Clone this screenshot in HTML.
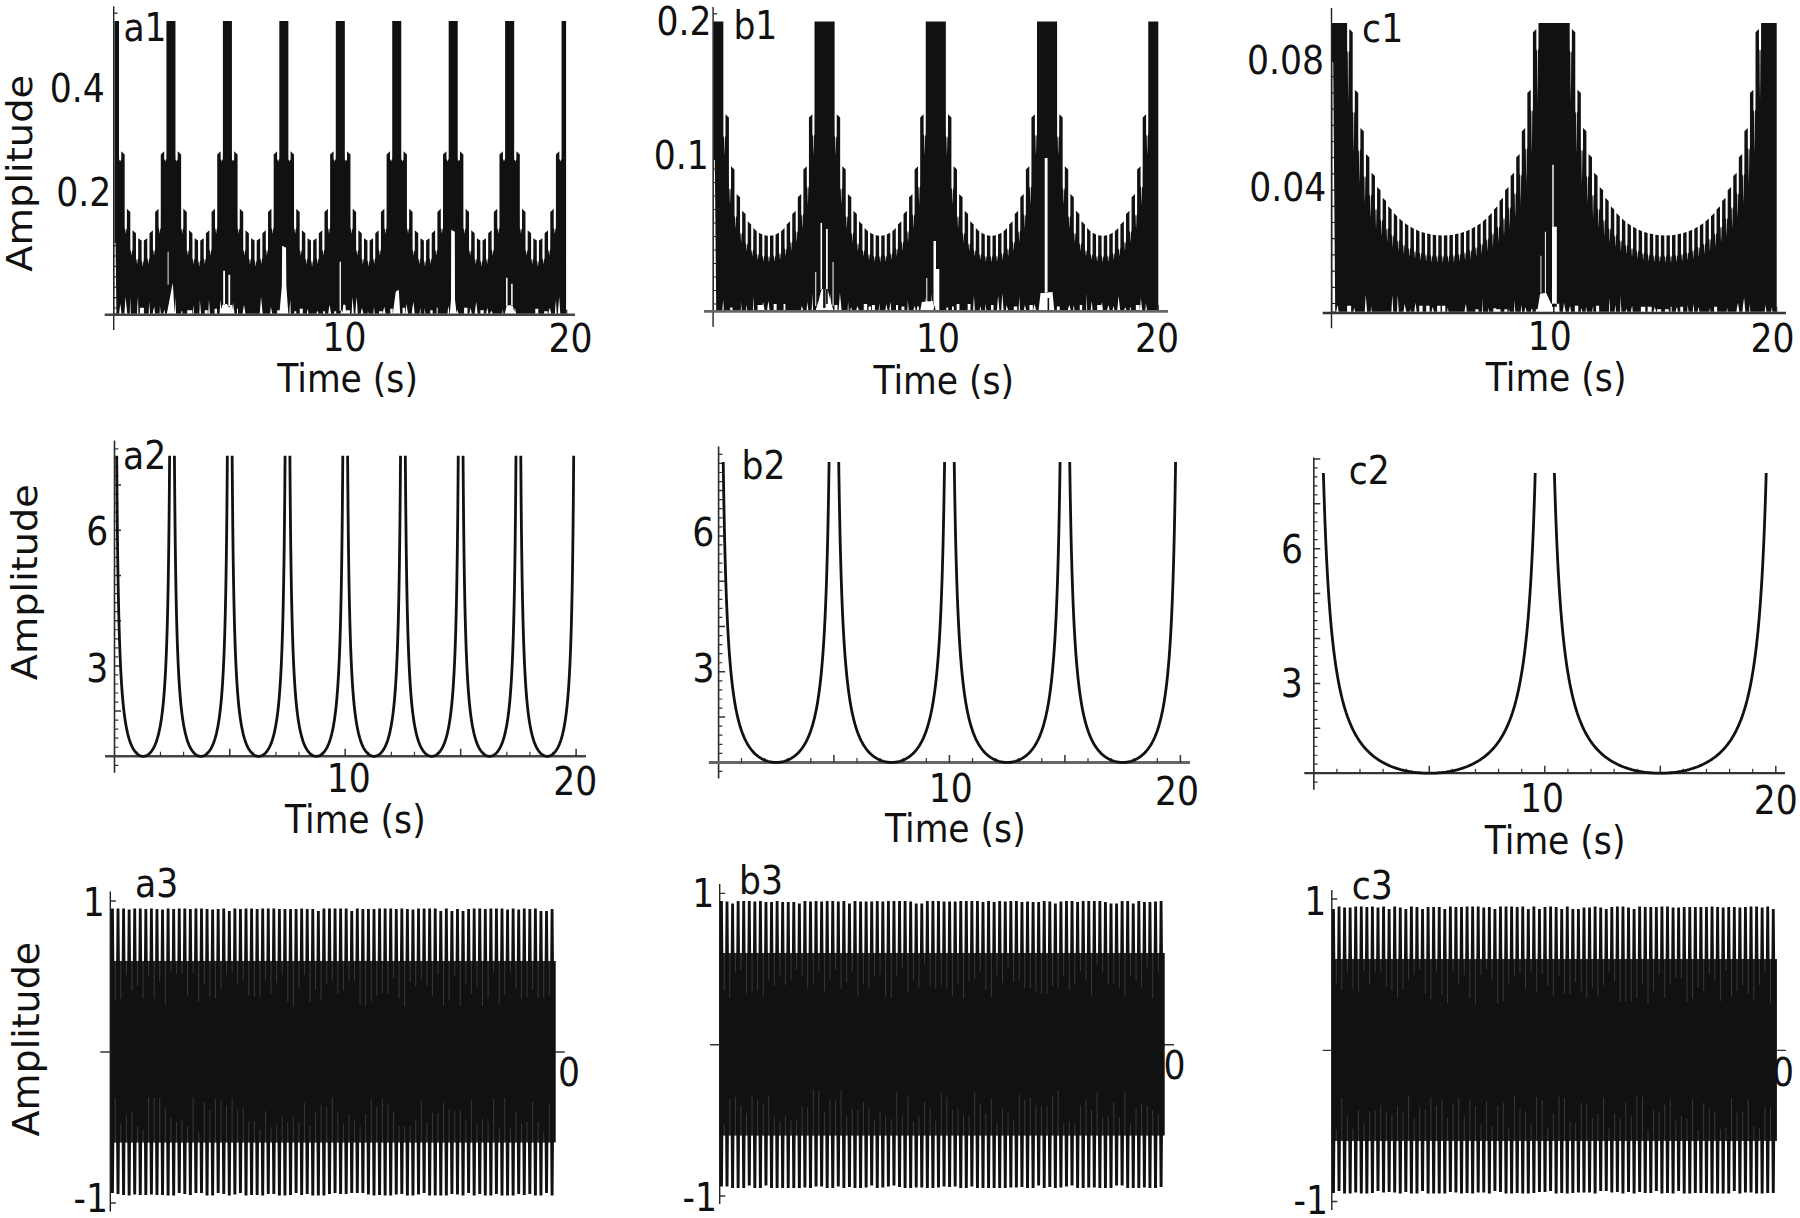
<!DOCTYPE html>
<html><head><meta charset="utf-8"><title>Amplitude vs Time</title>
<style>
html,body{margin:0;padding:0;background:#fff;overflow:hidden;}
svg{display:block;}
text{font-family:"DejaVu Sans","Liberation Sans",sans-serif;font-size:200px;fill:#111;}
</style></head><body>
<svg width="1800" height="1218" viewBox="0 0 1800 1218">
<rect width="1800" height="1218" fill="#fff"/>
<text transform="translate(548.51 352) scale(0.1730 0.1980)">20</text>
<path d="M114.5 313.7L114.5 21L115.62 21L119.02 21L119.02 152.9L119.08 159.48L119.72 160.21L119.92 161.05L120.14 161.6L120.37 161.05L120.57 160.21L121.21 159.48L121.27 152.9L121.27 151.3L124.67 154.5L124.67 210.46L124.72 228.06L125.36 230.01L125.57 232.25L125.79 233.74L126.01 232.25L126.22 230.01L126.86 228.06L126.91 210.46L126.91 208.86L130.31 212.06L130.31 231.77L130.37 249.79L131.01 251.79L131.21 254.08L131.44 255.6L131.66 254.08L131.86 251.79L132.5 249.79L132.56 231.77L132.56 230.17L135.96 233.37L135.96 239.79L136.01 258.31L136.65 260.36L136.86 262.71L137.08 264.28L137.3 262.71L137.51 260.36L138.15 258.31L138.2 239.79L138.2 238.33L141.6 240.56L141.6 240.56L141.66 260.32L142.3 262.52L142.5 265.03L142.72 266.7L142.95 265.03L143.15 262.52L143.79 260.32L143.85 240.56L143.85 240.56L147.25 238.33L147.25 238.33L147.3 257.95L147.94 260.13L148.15 262.62L148.37 264.28L148.59 262.62L148.8 260.13L149.44 257.95L149.49 238.33L149.49 233.37L152.89 230.17L152.89 230.17L152.95 249.4L153.59 251.54L153.79 253.98L154.01 255.6L154.24 253.98L154.44 251.54L155.08 249.4L155.14 230.17L155.14 212.06L158.54 208.86L158.54 208.86L158.59 227.67L159.23 229.76L159.44 232.15L159.66 233.74L159.88 232.15L160.09 229.76L160.73 227.67L160.78 208.86L160.78 154.5L164.18 151.3L164.18 151.3L164.24 159.09L164.88 159.96L165.08 160.95L165.31 161.6L165.53 160.95L165.73 159.96L166.37 159.09L166.43 151.3L166.43 21L169.83 21L170.95 21L172.07 21L175.47 21L175.47 152.9L175.53 159.48L176.17 160.21L176.37 161.05L176.59 161.6L176.82 161.05L177.02 160.21L177.66 159.48L177.72 152.9L177.72 151.3L181.12 154.5L181.12 210.46L181.17 228.06L181.81 230.01L182.02 232.25L182.24 233.74L182.46 232.25L182.67 230.01L183.31 228.06L183.36 210.46L183.36 208.86L186.76 212.06L186.76 231.77L186.82 249.79L187.46 251.79L187.66 254.08L187.88 255.6L188.11 254.08L188.31 251.79L188.95 249.79L189.01 231.77L189.01 230.17L192.41 233.37L192.41 239.79L192.46 258.31L193.1 260.36L193.31 262.71L193.53 264.28L193.75 262.71L193.96 260.36L194.6 258.31L194.65 239.79L194.65 238.33L198.05 240.56L198.05 240.56L198.11 260.32L198.75 262.52L198.95 265.03L199.18 266.7L199.4 265.03L199.6 262.52L200.24 260.32L200.3 240.56L200.3 240.56L203.7 238.33L203.7 238.33L203.75 257.95L204.39 260.13L204.6 262.62L204.82 264.28L205.04 262.62L205.25 260.13L205.89 257.95L205.94 238.33L205.94 233.37L209.34 230.17L209.34 230.17L209.4 249.4L210.04 251.54L210.24 253.98L210.46 255.6L210.69 253.98L210.89 251.54L211.53 249.4L211.59 230.17L211.59 212.06L214.99 208.86L214.99 208.86L215.04 227.67L215.68 229.76L215.89 232.15L216.11 233.74L216.33 232.15L216.54 229.76L217.18 227.67L217.23 208.86L217.23 154.5L220.63 151.3L220.63 151.3L220.69 159.09L221.33 159.96L221.53 160.95L221.75 161.6L221.98 160.95L222.18 159.96L222.82 159.09L222.88 151.3L222.88 21L226.28 21L227.4 21L228.52 21L231.92 21L231.92 152.9L231.98 159.48L232.62 160.21L232.82 161.05L233.04 161.6L233.27 161.05L233.47 160.21L234.11 159.48L234.17 152.9L234.17 151.3L237.57 154.5L237.57 210.46L237.62 228.06L238.26 230.01L238.47 232.25L238.69 233.74L238.91 232.25L239.12 230.01L239.76 228.06L239.81 210.46L239.81 208.86L243.21 212.06L243.21 231.77L243.27 249.79L243.91 251.79L244.11 254.08L244.33 255.6L244.56 254.08L244.76 251.79L245.4 249.79L245.46 231.77L245.46 230.17L248.86 233.37L248.86 239.79L248.91 258.31L249.55 260.36L249.76 262.71L249.98 264.28L250.2 262.71L250.41 260.36L251.05 258.31L251.1 239.79L251.1 238.33L254.5 240.56L254.5 240.56L254.56 260.32L255.2 262.52L255.4 265.03L255.62 266.7L255.85 265.03L256.05 262.52L256.69 260.32L256.75 240.56L256.75 240.56L260.15 238.33L260.15 238.33L260.2 257.95L260.84 260.13L261.05 262.62L261.27 264.28L261.49 262.62L261.7 260.13L262.34 257.95L262.39 238.33L262.39 233.37L265.79 230.17L265.79 230.17L265.85 249.4L266.49 251.54L266.69 253.98L266.91 255.6L267.14 253.98L267.34 251.54L267.98 249.4L268.04 230.17L268.04 212.06L271.44 208.86L271.44 208.86L271.49 227.67L272.13 229.76L272.34 232.15L272.56 233.74L272.78 232.15L272.99 229.76L273.63 227.67L273.68 208.86L273.68 154.5L277.08 151.3L277.08 151.3L277.14 159.09L277.78 159.96L277.98 160.95L278.2 161.6L278.43 160.95L278.63 159.96L279.27 159.09L279.33 151.3L279.33 21L282.73 21L283.85 21L284.97 21L288.37 21L288.37 152.9L288.43 159.48L289.07 160.21L289.27 161.05L289.5 161.6L289.72 161.05L289.92 160.21L290.56 159.48L290.62 152.9L290.62 151.3L294.02 154.5L294.02 210.46L294.07 228.06L294.71 230.01L294.92 232.25L295.14 233.74L295.36 232.25L295.57 230.01L296.21 228.06L296.26 210.46L296.26 208.86L299.66 212.06L299.66 231.77L299.72 249.79L300.36 251.79L300.56 254.08L300.78 255.6L301.01 254.08L301.21 251.79L301.85 249.79L301.91 231.77L301.91 230.17L305.31 233.37L305.31 239.79L305.36 258.31L306 260.36L306.21 262.71L306.43 264.28L306.65 262.71L306.86 260.36L307.5 258.31L307.55 239.79L307.55 238.33L310.95 240.56L310.95 240.56L311.01 260.32L311.65 262.52L311.85 265.03L312.07 266.7L312.3 265.03L312.5 262.52L313.14 260.32L313.2 240.56L313.2 240.56L316.6 238.33L316.6 238.33L316.65 257.95L317.29 260.13L317.5 262.62L317.72 264.28L317.94 262.62L318.15 260.13L318.79 257.95L318.84 238.33L318.84 233.37L322.24 230.17L322.24 230.17L322.3 249.4L322.94 251.54L323.14 253.98L323.37 255.6L323.59 253.98L323.79 251.54L324.43 249.4L324.49 230.17L324.49 212.06L327.89 208.86L327.89 208.86L327.94 227.67L328.58 229.76L328.79 232.15L329.01 233.74L329.23 232.15L329.44 229.76L330.08 227.67L330.13 208.86L330.13 154.5L333.53 151.3L333.53 151.3L333.59 159.09L334.23 159.96L334.43 160.95L334.65 161.6L334.88 160.95L335.08 159.96L335.72 159.09L335.78 151.3L335.78 21L339.18 21L340.3 21L341.42 21L344.82 21L344.82 152.9L344.88 159.48L345.52 160.21L345.72 161.05L345.94 161.6L346.17 161.05L346.37 160.21L347.01 159.48L347.07 152.9L347.07 151.3L350.47 154.5L350.47 210.46L350.52 228.06L351.16 230.01L351.37 232.25L351.59 233.74L351.81 232.25L352.02 230.01L352.66 228.06L352.71 210.46L352.71 208.86L356.11 212.06L356.11 231.77L356.17 249.79L356.81 251.79L357.01 254.08L357.24 255.6L357.46 254.08L357.66 251.79L358.3 249.79L358.36 231.77L358.36 230.17L361.76 233.37L361.76 239.79L361.81 258.31L362.45 260.36L362.66 262.71L362.88 264.28L363.1 262.71L363.31 260.36L363.95 258.31L364 239.79L364 238.33L367.4 240.56L367.4 240.56L367.46 260.32L368.1 262.52L368.3 265.03L368.52 266.7L368.75 265.03L368.95 262.52L369.59 260.32L369.65 240.56L369.65 240.56L373.05 238.33L373.05 238.33L373.1 257.95L373.74 260.13L373.95 262.62L374.17 264.28L374.39 262.62L374.6 260.13L375.24 257.95L375.29 238.33L375.29 233.37L378.69 230.17L378.69 230.17L378.75 249.4L379.39 251.54L379.59 253.98L379.81 255.6L380.04 253.98L380.24 251.54L380.88 249.4L380.94 230.17L380.94 212.06L384.34 208.86L384.34 208.86L384.39 227.67L385.03 229.76L385.24 232.15L385.46 233.74L385.68 232.15L385.89 229.76L386.53 227.67L386.58 208.86L386.58 154.5L389.98 151.3L389.98 151.3L390.04 159.09L390.68 159.96L390.88 160.95L391.1 161.6L391.33 160.95L391.53 159.96L392.17 159.09L392.23 151.3L392.23 21L395.63 21L396.75 21L397.87 21L401.27 21L401.27 152.9L401.33 159.48L401.97 160.21L402.17 161.05L402.39 161.6L402.62 161.05L402.82 160.21L403.46 159.48L403.52 152.9L403.52 151.3L406.92 154.5L406.92 210.46L406.97 228.06L407.61 230.01L407.82 232.25L408.04 233.74L408.26 232.25L408.47 230.01L409.11 228.06L409.16 210.46L409.16 208.86L412.56 212.06L412.56 231.77L412.62 249.79L413.26 251.79L413.46 254.08L413.69 255.6L413.91 254.08L414.11 251.79L414.75 249.79L414.81 231.77L414.81 230.17L418.21 233.37L418.21 239.79L418.26 258.31L418.9 260.36L419.11 262.71L419.33 264.28L419.55 262.71L419.76 260.36L420.4 258.31L420.45 239.79L420.45 238.33L423.85 240.56L423.85 240.56L423.91 260.32L424.55 262.52L424.75 265.03L424.97 266.7L425.2 265.03L425.4 262.52L426.04 260.32L426.1 240.56L426.1 240.56L429.5 238.33L429.5 238.33L429.55 257.95L430.19 260.13L430.4 262.62L430.62 264.28L430.84 262.62L431.05 260.13L431.69 257.95L431.74 238.33L431.74 233.37L435.14 230.17L435.14 230.17L435.2 249.4L435.84 251.54L436.04 253.98L436.26 255.6L436.49 253.98L436.69 251.54L437.33 249.4L437.39 230.17L437.39 212.06L440.79 208.86L440.79 208.86L440.84 227.67L441.48 229.76L441.69 232.15L441.91 233.74L442.13 232.15L442.34 229.76L442.98 227.67L443.03 208.86L443.03 154.5L446.43 151.3L446.43 151.3L446.49 159.09L447.13 159.96L447.33 160.95L447.55 161.6L447.78 160.95L447.98 159.96L448.62 159.09L448.68 151.3L448.68 21L452.08 21L453.2 21L454.32 21L457.72 21L457.72 152.9L457.78 159.48L458.42 160.21L458.62 161.05L458.84 161.6L459.07 161.05L459.27 160.21L459.91 159.48L459.97 152.9L459.97 151.3L463.37 154.5L463.37 210.46L463.42 228.06L464.06 230.01L464.27 232.25L464.49 233.74L464.71 232.25L464.92 230.01L465.56 228.06L465.61 210.46L465.61 208.86L469.01 212.06L469.01 231.77L469.07 249.79L469.71 251.79L469.91 254.08L470.13 255.6L470.36 254.08L470.56 251.79L471.2 249.79L471.26 231.77L471.26 230.17L474.66 233.37L474.66 239.79L474.71 258.31L475.35 260.36L475.56 262.71L475.78 264.28L476 262.71L476.21 260.36L476.85 258.31L476.9 239.79L476.9 238.33L480.3 240.56L480.3 240.56L480.36 260.32L481 262.52L481.2 265.03L481.42 266.7L481.65 265.03L481.85 262.52L482.49 260.32L482.55 240.56L482.55 240.56L485.95 238.33L485.95 238.33L486 257.95L486.64 260.13L486.85 262.62L487.07 264.28L487.29 262.62L487.5 260.13L488.14 257.95L488.19 238.33L488.19 233.37L491.59 230.17L491.59 230.17L491.65 249.4L492.29 251.54L492.49 253.98L492.71 255.6L492.94 253.98L493.14 251.54L493.78 249.4L493.84 230.17L493.84 212.06L497.24 208.86L497.24 208.86L497.29 227.67L497.93 229.76L498.14 232.15L498.36 233.74L498.58 232.15L498.79 229.76L499.43 227.67L499.48 208.86L499.48 154.5L502.88 151.3L502.88 151.3L502.94 159.09L503.58 159.96L503.78 160.95L504 161.6L504.23 160.95L504.43 159.96L505.07 159.09L505.13 151.3L505.13 21L508.53 21L509.65 21L510.77 21L514.17 21L514.17 152.9L514.23 159.48L514.87 160.21L515.07 161.05L515.29 161.6L515.52 161.05L515.72 160.21L516.36 159.48L516.42 152.9L516.42 151.3L519.82 154.5L519.82 210.46L519.87 228.06L520.51 230.01L520.72 232.25L520.94 233.74L521.16 232.25L521.37 230.01L522.01 228.06L522.06 210.46L522.06 208.86L525.46 212.06L525.46 231.77L525.52 249.79L526.16 251.79L526.36 254.08L526.59 255.6L526.81 254.08L527.01 251.79L527.65 249.79L527.71 231.77L527.71 230.17L531.11 233.37L531.11 239.79L531.16 258.31L531.8 260.36L532.01 262.71L532.23 264.28L532.45 262.71L532.66 260.36L533.3 258.31L533.35 239.79L533.35 238.33L536.75 240.56L536.75 240.56L536.81 260.32L537.45 262.52L537.65 265.03L537.88 266.7L538.1 265.03L538.3 262.52L538.94 260.32L539 240.56L539 240.56L542.4 238.33L542.4 238.33L542.45 257.95L543.09 260.13L543.3 262.62L543.52 264.28L543.74 262.62L543.95 260.13L544.59 257.95L544.64 238.33L544.64 233.37L548.04 230.17L548.04 230.17L548.1 249.4L548.74 251.54L548.94 253.98L549.16 255.6L549.39 253.98L549.59 251.54L550.23 249.4L550.29 230.17L550.29 212.06L553.69 208.86L553.69 208.86L553.74 227.67L554.38 229.76L554.59 232.15L554.81 233.74L555.03 232.15L555.24 229.76L555.88 227.67L555.93 208.86L555.93 154.5L559.33 151.3L559.33 151.3L559.39 159.09L560.03 159.96L560.23 160.95L560.45 161.6L560.68 160.95L560.88 159.96L561.52 159.09L561.58 151.3L561.58 21L564.98 21L566.1 21L566.1 313.7Z" fill="#111"/>
<path d="M119.11 314.2L119.59 309.2L120.38 303.7L121.51 314.2ZM124.32 314.2L124.92 306.05L125.5 296.7L127.32 314.2ZM129.79 314.2L129.99 306.05L130.21 296.7L130.79 314.2ZM137.05 314.2L137.33 306.05L138.01 296.7L138.45 314.2ZM139.92 314.2V307.7H143.92V314.2ZM148.63 314.2L148.91 308.3L149.33 301.7L150.03 314.2ZM152.7 314.2L153.18 310.55L154.29 306.7L155.1 314.2ZM159.54 314.2L159.82 310.1L159.87 305.7L160.94 314.2ZM163.31 314.2L163.67 311.9L164.57 309.7L165.11 314.2ZM169.05 314.2L169.25 311L169.94 307.7L170.05 314.2ZM174.7 314.2L174.98 306.05L175.22 296.7L176.1 314.2ZM181.27 314.2V311.2H182.27V314.2ZM187.22 314.2V310.2H192.22V314.2ZM192.8 314.2L193 309.65L193.7 304.7L193.8 314.2ZM199.3 314.2L199.66 307.4L199.81 299.7L201.1 314.2ZM204.71 314.2V310.2H207.71V314.2ZM208.19 314.2L208.55 307.4L209 299.7L209.99 314.2ZM214.59 314.2V308.7H216.99V314.2ZM219.51 314.2L219.99 307.4L220.42 299.7L221.91 314.2ZM227.06 314.2L227.34 310.55L227.56 306.7L228.46 314.2ZM233.02 314.2L233.3 308.3L233.63 301.7L234.42 314.2ZM237.01 314.2V308.7H238.01V314.2ZM242.53 314.2L243.13 309.65L244.05 304.7L245.53 314.2ZM259.71 314.2L260.31 306.05L261.04 296.7L262.71 314.2ZM270.01 314.2L270.49 310.55L270.85 306.7L272.41 314.2ZM277.14 314.2V310.2H279.54V314.2ZM289.33 314.2L289.61 307.4L290.37 299.7L290.73 314.2ZM294.24 314.2V311.2H296.24V314.2ZM299.76 314.2V308.7H302.76V314.2ZM306.75 314.2L307.11 311.45L307.8 308.7L308.55 314.2ZM316.29 314.2L316.77 312.35L317.59 310.7L318.69 314.2ZM323.1 314.2V311.2H325.1V314.2ZM328.15 314.2L328.75 309.65L329.62 304.7L331.15 314.2ZM334.21 314.2V311.2H336.21V314.2ZM340.38 314.2L340.86 311.9L341.71 309.7L342.78 314.2ZM346.15 314.2V310.2H349.95V314.2ZM351.53 314.2L352.01 306.05L352.52 296.7L353.93 314.2ZM355.34 314.2L355.82 306.05L356.74 296.7L357.74 314.2ZM360.58 314.2L361.18 311L361.85 307.7L363.58 314.2ZM367.61 314.2L367.81 312.35L367.93 310.7L368.61 314.2ZM373.33 314.2L373.61 310.55L373.94 306.7L374.73 314.2ZM379.1 314.2V311.2H382.5V314.2ZM382.68 314.2L383.28 310.55L384.3 306.7L385.68 314.2ZM390.3 314.2V308.7H392.7V314.2ZM397.08 314.2L397.28 306.05L397.69 296.7L398.08 314.2ZM402.56 314.2V307.7H404.96V314.2ZM405.17 314.2L405.77 309.2L406.41 303.7L408.17 314.2ZM411.75 314.2L412.35 308.3L413.46 301.7L414.75 314.2ZM419.65 314.2L419.85 311L420.46 307.7L420.65 314.2ZM424.34 314.2L424.54 311L424.89 307.7L425.34 314.2ZM430.25 314.2V310.2H432.65V314.2ZM436.66 314.2V307.7H437.66V314.2ZM447.47 314.2L447.83 310.1L448.65 305.7L449.27 314.2ZM451.13 314.2L451.49 309.2L452.25 303.7L452.93 314.2ZM456.32 314.2L456.8 311.9L457.26 309.7L458.72 314.2ZM464.1 314.2V307.7H467.5V314.2ZM469.46 314.2L469.94 311L470.5 307.7L471.86 314.2ZM474.67 314.2L475.27 308.3L476.22 301.7L477.67 314.2ZM480.39 314.2V310.2H483.79V314.2ZM486.07 314.2L486.55 311L487.28 307.7L488.47 314.2ZM489.89 314.2L490.49 312.35L491.43 310.7L492.89 314.2ZM502.37 314.2L502.57 311.45L502.83 308.7L503.37 314.2ZM513.83 314.2L514.31 311L514.9 307.7L516.23 314.2ZM535.28 314.2V308.7H538.28V314.2ZM544.16 314.2V311.2H547.56V314.2ZM548.29 314.2L548.89 311L549.79 307.7L551.29 314.2ZM554.9 314.2L555.26 307.4L555.96 299.7L556.7 314.2ZM557.92 314.2L558.4 306.05L559.21 296.7L560.32 314.2ZM166.75 314.2L172.75 282.7L174.75 314.2ZM167.65 284.7h0.9V251.7h-0.9ZM220.4 314.2L222.4 304.7L226.4 303.7L228.4 305.7L232.4 304.7L233.6 314.2ZM223.2 304.7h1.8V270.7h-1.8ZM228.4 306.7h1.8V274.7h-1.8ZM279.35 314.2L281.85 285.7L282.15 245.7L286.05 247.7L286.35 285.7L288.35 314.2ZM339.6 310.7h1.3V261.7h-1.3ZM342.3 314.2L343.3 304.7L345.3 304.7L346.3 314.2ZM392.75 314.2L395.75 291.7L398.75 289.7L400.25 314.2ZM449.7 314.2L451 299.7L451.2 229.7L454.8 231.7L455 299.7L456.7 314.2ZM504.65 314.2L506.65 305.7L512.65 304.7L514.65 314.2ZM506.05 305.7h1.5V277.7h-1.5ZM511.15 305.7h1.5V283.7h-1.5Z" fill="#fff"/>
<path d="M114.6 243L115.6 243L116.4 313L114.6 313Z" fill="#fff"/>
<path d="M114.1 308h3M114.1 297.6h3M114.1 287.2h3M114.1 276.8h3M114.1 266.4h3M114.1 256h3M114.1 245.6h3" fill="none" stroke="#222" stroke-width="1.2"/>
<path d="M113.7 6.2L113.7 330" stroke="#222" stroke-width="1.4"/>
<path d="M104.7 314.8L575 314.8" stroke="#444" stroke-width="2.4"/>
<path d="M113.7 13.2h4" fill="none" stroke="#333" stroke-width="1.3"/>
<path d="M566.7 313.7v-4" fill="none" stroke="#333" stroke-width="1.3"/>
<text transform="translate(123.39 41.16) scale(0.1730 0.1980)">a1</text>
<text transform="translate(49.82 102.11) scale(0.1730 0.1980)">0.4</text>
<text transform="translate(56.15 205.7) scale(0.1730 0.1980)">0.2</text>
<text transform="translate(322.4 351.36) scale(0.1730 0.1980)">10</text>
<text transform="translate(277.23 392.27) scale(0.1730 0.1980)">Time (s)</text>
<text transform="translate(32.34 271.68) rotate(-90) scale(0.1921 0.1753)">Amplitude</text>
<path d="M713.3 310.1L713.3 21.4L714.38 21.4L717.78 21.4L718.86 21.4L719.94 21.4L723.34 21.4L723.34 115.94L723.4 135.74L724.01 137.94L724.21 148.62L724.42 155.74L724.64 148.62L724.84 137.94L725.45 135.74L725.51 115.94L725.51 114.34L728.91 117.54L728.91 167.9L728.96 187.7L729.58 189.9L729.77 198.98L729.99 205.03L730.2 198.98L730.4 189.9L731.01 187.7L731.07 167.9L731.07 166.3L734.47 169.5L734.47 195.7L734.52 215.5L735.14 217.7L735.33 224.45L735.55 228.95L735.77 224.45L735.96 217.7L736.58 215.5L736.63 195.7L736.63 194.1L740.03 197.3L740.03 212.39L740.09 232.19L740.7 234.39L740.9 239.34L741.11 242.64L741.33 239.34L741.52 234.39L742.14 232.19L742.19 212.39L742.19 210.79L745.59 213.99L745.59 222.96L745.65 242.76L746.26 244.96L746.46 248.67L746.67 251.14L746.89 248.67L747.09 244.96L747.7 242.76L747.76 222.96L747.76 221.36L751.16 224.56L751.16 229.68L751.21 249.48L751.83 251.68L752.02 254.61L752.24 256.57L752.45 254.61L752.65 251.68L753.26 249.48L753.32 229.68L753.32 228.08L756.72 231.16L756.72 233.69L756.77 253.49L757.39 255.69L757.58 258.24L757.8 259.95L758.02 258.24L758.21 255.69L758.83 253.49L758.88 233.69L758.88 232.71L762.28 234.47L762.28 235.57L762.34 255.37L762.95 257.57L763.15 260.11L763.36 261.81L763.58 260.11L763.77 257.57L764.39 255.37L764.44 235.57L764.44 235.2L767.84 235.77L767.84 235.77L767.9 255.57L768.51 257.77L768.71 260.55L768.92 262.4L769.14 260.55L769.34 257.77L769.95 255.57L770.01 235.77L770.01 235.77L773.41 235.2L773.41 235.2L773.46 255L774.08 257.2L774.27 259.96L774.49 261.81L774.7 259.96L774.9 257.2L775.51 255L775.57 235.2L775.57 234.47L778.97 232.71L778.97 232.71L779.02 252.51L779.64 254.71L779.83 257.85L780.05 259.95L780.27 257.85L780.46 254.71L781.08 252.51L781.13 232.71L781.13 231.16L784.53 228.08L784.53 228.08L784.59 247.88L785.2 250.08L785.4 253.97L785.61 256.57L785.83 253.97L786.02 250.08L786.64 247.88L786.69 228.08L786.69 224.56L790.09 221.36L790.09 221.36L790.15 241.16L790.76 243.36L790.96 248.03L791.17 251.14L791.39 248.03L791.59 243.36L792.2 241.16L792.26 221.36L792.26 213.99L795.66 210.79L795.66 210.79L795.71 230.59L796.33 232.79L796.52 238.7L796.74 242.64L796.95 238.7L797.15 232.79L797.76 230.59L797.82 210.79L797.82 197.3L801.22 194.1L801.22 194.1L801.27 213.9L801.89 216.1L802.08 223.81L802.3 228.95L802.52 223.81L802.71 216.1L803.33 213.9L803.38 194.1L803.38 169.5L806.78 166.3L806.78 166.3L806.84 186.1L807.45 188.3L807.65 198.34L807.86 205.03L808.08 198.34L808.27 188.3L808.89 186.1L808.94 166.3L808.94 117.54L812.34 114.34L812.34 114.34L812.4 134.14L813.01 136.34L813.21 147.98L813.42 155.74L813.64 147.98L813.84 136.34L814.45 134.14L814.51 114.34L814.51 21.4L817.91 21.4L818.99 21.4L820.07 21.4L823.47 21.4L824.55 21.4L825.63 21.4L829.03 21.4L830.11 21.4L831.19 21.4L834.59 21.4L834.59 115.94L834.65 135.74L835.26 137.94L835.46 148.62L835.67 155.74L835.89 148.62L836.09 137.94L836.7 135.74L836.76 115.94L836.76 114.34L840.16 117.54L840.16 167.9L840.21 187.7L840.83 189.9L841.02 198.98L841.24 205.03L841.45 198.98L841.65 189.9L842.26 187.7L842.32 167.9L842.32 166.3L845.72 169.5L845.72 195.7L845.77 215.5L846.39 217.7L846.58 224.45L846.8 228.95L847.02 224.45L847.21 217.7L847.83 215.5L847.88 195.7L847.88 194.1L851.28 197.3L851.28 212.39L851.34 232.19L851.95 234.39L852.15 239.34L852.36 242.64L852.58 239.34L852.77 234.39L853.39 232.19L853.44 212.39L853.44 210.79L856.84 213.99L856.84 222.96L856.9 242.76L857.51 244.96L857.71 248.67L857.92 251.14L858.14 248.67L858.34 244.96L858.95 242.76L859.01 222.96L859.01 221.36L862.41 224.56L862.41 229.68L862.46 249.48L863.08 251.68L863.27 254.61L863.49 256.57L863.7 254.61L863.9 251.68L864.51 249.48L864.57 229.68L864.57 228.08L867.97 231.16L867.97 233.69L868.02 253.49L868.64 255.69L868.83 258.24L869.05 259.95L869.27 258.24L869.46 255.69L870.08 253.49L870.13 233.69L870.13 232.71L873.53 234.47L873.53 235.57L873.59 255.37L874.2 257.57L874.4 260.11L874.61 261.81L874.83 260.11L875.02 257.57L875.64 255.37L875.69 235.57L875.69 235.2L879.09 235.77L879.09 235.77L879.15 255.57L879.76 257.77L879.96 260.55L880.17 262.4L880.39 260.55L880.59 257.77L881.2 255.57L881.26 235.77L881.26 235.77L884.66 235.2L884.66 235.2L884.71 255L885.33 257.2L885.52 259.96L885.74 261.81L885.95 259.96L886.15 257.2L886.76 255L886.82 235.2L886.82 234.47L890.22 232.71L890.22 232.71L890.27 252.51L890.89 254.71L891.08 257.85L891.3 259.95L891.52 257.85L891.71 254.71L892.33 252.51L892.38 232.71L892.38 231.16L895.78 228.08L895.78 228.08L895.84 247.88L896.45 250.08L896.65 253.97L896.86 256.57L897.08 253.97L897.27 250.08L897.89 247.88L897.94 228.08L897.94 224.56L901.34 221.36L901.34 221.36L901.4 241.16L902.01 243.36L902.21 248.03L902.42 251.14L902.64 248.03L902.84 243.36L903.45 241.16L903.51 221.36L903.51 213.99L906.91 210.79L906.91 210.79L906.96 230.59L907.58 232.79L907.77 238.7L907.99 242.64L908.2 238.7L908.4 232.79L909.01 230.59L909.07 210.79L909.07 197.3L912.47 194.1L912.47 194.1L912.52 213.9L913.14 216.1L913.33 223.81L913.55 228.95L913.77 223.81L913.96 216.1L914.58 213.9L914.63 194.1L914.63 169.5L918.03 166.3L918.03 166.3L918.09 186.1L918.7 188.3L918.9 198.34L919.11 205.03L919.33 198.34L919.52 188.3L920.14 186.1L920.19 166.3L920.19 117.54L923.59 114.34L923.59 114.34L923.65 134.14L924.26 136.34L924.46 147.98L924.67 155.74L924.89 147.98L925.09 136.34L925.7 134.14L925.76 114.34L925.76 21.4L929.16 21.4L930.24 21.4L931.32 21.4L934.72 21.4L935.8 21.4L936.88 21.4L940.28 21.4L941.36 21.4L942.44 21.4L945.84 21.4L945.84 115.94L945.9 135.74L946.51 137.94L946.71 148.62L946.92 155.74L947.14 148.62L947.34 137.94L947.95 135.74L948.01 115.94L948.01 114.34L951.41 117.54L951.41 167.9L951.46 187.7L952.08 189.9L952.27 198.98L952.49 205.03L952.7 198.98L952.9 189.9L953.51 187.7L953.57 167.9L953.57 166.3L956.97 169.5L956.97 195.7L957.02 215.5L957.64 217.7L957.83 224.45L958.05 228.95L958.27 224.45L958.46 217.7L959.08 215.5L959.13 195.7L959.13 194.1L962.53 197.3L962.53 212.39L962.59 232.19L963.2 234.39L963.4 239.34L963.61 242.64L963.83 239.34L964.02 234.39L964.64 232.19L964.69 212.39L964.69 210.79L968.09 213.99L968.09 222.96L968.15 242.76L968.76 244.96L968.96 248.67L969.17 251.14L969.39 248.67L969.59 244.96L970.2 242.76L970.26 222.96L970.26 221.36L973.66 224.56L973.66 229.68L973.71 249.48L974.33 251.68L974.52 254.61L974.74 256.57L974.95 254.61L975.15 251.68L975.76 249.48L975.82 229.68L975.82 228.08L979.22 231.16L979.22 233.69L979.27 253.49L979.89 255.69L980.08 258.24L980.3 259.95L980.52 258.24L980.71 255.69L981.33 253.49L981.38 233.69L981.38 232.71L984.78 234.47L984.78 235.57L984.84 255.37L985.45 257.57L985.65 260.11L985.86 261.81L986.08 260.11L986.27 257.57L986.89 255.37L986.94 235.57L986.94 235.2L990.34 235.77L990.34 235.77L990.4 255.57L991.01 257.77L991.21 260.55L991.42 262.4L991.64 260.55L991.84 257.77L992.45 255.57L992.51 235.77L992.51 235.77L995.91 235.2L995.91 235.2L995.96 255L996.58 257.2L996.77 259.96L996.99 261.81L997.2 259.96L997.4 257.2L998.01 255L998.07 235.2L998.07 234.47L1001.47 232.71L1001.47 232.71L1001.52 252.51L1002.14 254.71L1002.33 257.85L1002.55 259.95L1002.77 257.85L1002.96 254.71L1003.58 252.51L1003.63 232.71L1003.63 231.16L1007.03 228.08L1007.03 228.08L1007.09 247.88L1007.7 250.08L1007.9 253.97L1008.11 256.57L1008.33 253.97L1008.52 250.08L1009.14 247.88L1009.19 228.08L1009.19 224.56L1012.59 221.36L1012.59 221.36L1012.65 241.16L1013.26 243.36L1013.46 248.03L1013.67 251.14L1013.89 248.03L1014.09 243.36L1014.7 241.16L1014.76 221.36L1014.76 213.99L1018.16 210.79L1018.16 210.79L1018.21 230.59L1018.83 232.79L1019.02 238.7L1019.24 242.64L1019.45 238.7L1019.65 232.79L1020.26 230.59L1020.32 210.79L1020.32 197.3L1023.72 194.1L1023.72 194.1L1023.77 213.9L1024.39 216.1L1024.58 223.81L1024.8 228.95L1025.02 223.81L1025.21 216.1L1025.83 213.9L1025.88 194.1L1025.88 169.5L1029.28 166.3L1029.28 166.3L1029.34 186.1L1029.95 188.3L1030.15 198.34L1030.36 205.03L1030.58 198.34L1030.77 188.3L1031.39 186.1L1031.44 166.3L1031.44 117.54L1034.84 114.34L1034.84 114.34L1034.9 134.14L1035.51 136.34L1035.71 147.98L1035.92 155.74L1036.14 147.98L1036.34 136.34L1036.95 134.14L1037.01 114.34L1037.01 21.4L1040.41 21.4L1041.49 21.4L1042.57 21.4L1045.97 21.4L1047.05 21.4L1048.13 21.4L1051.53 21.4L1052.61 21.4L1053.69 21.4L1057.09 21.4L1057.09 115.94L1057.15 135.74L1057.76 137.94L1057.96 148.62L1058.17 155.74L1058.39 148.62L1058.59 137.94L1059.2 135.74L1059.26 115.94L1059.26 114.34L1062.66 117.54L1062.66 167.9L1062.71 187.7L1063.33 189.9L1063.52 198.98L1063.74 205.03L1063.95 198.98L1064.15 189.9L1064.76 187.7L1064.82 167.9L1064.82 166.3L1068.22 169.5L1068.22 195.7L1068.27 215.5L1068.89 217.7L1069.08 224.45L1069.3 228.95L1069.52 224.45L1069.71 217.7L1070.33 215.5L1070.38 195.7L1070.38 194.1L1073.78 197.3L1073.78 212.39L1073.84 232.19L1074.45 234.39L1074.65 239.34L1074.86 242.64L1075.08 239.34L1075.27 234.39L1075.89 232.19L1075.94 212.39L1075.94 210.79L1079.34 213.99L1079.34 222.96L1079.4 242.76L1080.01 244.96L1080.21 248.67L1080.42 251.14L1080.64 248.67L1080.84 244.96L1081.45 242.76L1081.51 222.96L1081.51 221.36L1084.91 224.56L1084.91 229.68L1084.96 249.48L1085.58 251.68L1085.77 254.61L1085.99 256.57L1086.2 254.61L1086.4 251.68L1087.01 249.48L1087.07 229.68L1087.07 228.08L1090.47 231.16L1090.47 233.69L1090.52 253.49L1091.14 255.69L1091.33 258.24L1091.55 259.95L1091.77 258.24L1091.96 255.69L1092.58 253.49L1092.63 233.69L1092.63 232.71L1096.03 234.47L1096.03 235.57L1096.09 255.37L1096.7 257.57L1096.9 260.11L1097.11 261.81L1097.33 260.11L1097.52 257.57L1098.14 255.37L1098.19 235.57L1098.19 235.2L1101.59 235.77L1101.59 235.77L1101.65 255.57L1102.26 257.77L1102.46 260.55L1102.67 262.4L1102.89 260.55L1103.09 257.77L1103.7 255.57L1103.76 235.77L1103.76 235.77L1107.16 235.2L1107.16 235.2L1107.21 255L1107.83 257.2L1108.02 259.96L1108.24 261.81L1108.45 259.96L1108.65 257.2L1109.26 255L1109.32 235.2L1109.32 234.47L1112.72 232.71L1112.72 232.71L1112.77 252.51L1113.39 254.71L1113.58 257.85L1113.8 259.95L1114.02 257.85L1114.21 254.71L1114.83 252.51L1114.88 232.71L1114.88 231.16L1118.28 228.08L1118.28 228.08L1118.34 247.88L1118.95 250.08L1119.15 253.97L1119.36 256.57L1119.58 253.97L1119.77 250.08L1120.39 247.88L1120.44 228.08L1120.44 224.56L1123.84 221.36L1123.84 221.36L1123.9 241.16L1124.51 243.36L1124.71 248.03L1124.92 251.14L1125.14 248.03L1125.34 243.36L1125.95 241.16L1126.01 221.36L1126.01 213.99L1129.41 210.79L1129.41 210.79L1129.46 230.59L1130.08 232.79L1130.27 238.7L1130.49 242.64L1130.7 238.7L1130.9 232.79L1131.51 230.59L1131.57 210.79L1131.57 197.3L1134.97 194.1L1134.97 194.1L1135.02 213.9L1135.64 216.1L1135.83 223.81L1136.05 228.95L1136.27 223.81L1136.46 216.1L1137.08 213.9L1137.13 194.1L1137.13 169.5L1140.53 166.3L1140.53 166.3L1140.59 186.1L1141.2 188.3L1141.4 198.34L1141.61 205.03L1141.83 198.34L1142.02 188.3L1142.64 186.1L1142.69 166.3L1142.69 117.54L1146.09 114.34L1146.09 114.34L1146.15 134.14L1146.76 136.34L1146.96 147.98L1147.17 155.74L1147.39 147.98L1147.59 136.34L1148.2 134.14L1148.26 114.34L1148.26 21.4L1151.66 21.4L1152.74 21.4L1153.82 21.4L1157.22 21.4L1158.3 21.4L1158.3 310.1Z" fill="#111"/>
<path d="M722.39 310.6L722.67 305.6L723.28 300.1L723.79 310.6ZM730.11 310.6V307.6H732.51V310.6ZM740.76 310.6L740.96 306.05L740.88 301.1L741.76 310.6ZM745.96 310.6L746.16 307.85L746.81 305.1L746.96 310.6ZM753.03 310.6L753.23 303.8L753.62 296.1L754.03 310.6ZM757.58 310.6V305.1H762.58V310.6ZM761.67 310.6L762.27 306.5L763.11 302.1L764.67 310.6ZM767.12 310.6L767.6 306.05L768.65 301.1L769.52 310.6ZM773.63 310.6V304.1H776.63V310.6ZM783.57 310.6V304.1H785.37V310.6ZM800.82 310.6L801.3 308.3L801.76 306.1L803.22 310.6ZM806.54 310.6L806.9 306.5L807.39 302.1L808.34 310.6ZM811.7 310.6L811.98 302.45L812.08 293.1L813.1 310.6ZM816.43 310.6L817.03 307.85L818.21 305.1L819.43 310.6ZM823.72 310.6L824.08 303.8L824.81 296.1L825.52 310.6ZM829.85 310.6L830.21 302.45L830.44 293.1L831.65 310.6ZM834.5 310.6V305.1H837.5V310.6ZM838.61 310.6L839.21 302.45L839.92 293.1L841.61 310.6ZM847.61 310.6L847.81 306.5L848.14 302.1L848.61 310.6ZM850.25 310.6L850.61 308.75L851.22 307.1L852.05 310.6ZM856.15 310.6L856.75 308.3L857.28 306.1L859.15 310.6ZM863.76 310.6V304.1H867.16V310.6ZM868.55 310.6V306.6H870.95V310.6ZM871.9 310.6V305.1H874.9V310.6ZM878.72 310.6L878.92 306.95L879.38 303.1L879.72 310.6ZM885.29 310.6L885.77 307.4L886.28 304.1L887.69 310.6ZM889.39 310.6L889.75 306.5L890.55 302.1L891.19 310.6ZM896.03 310.6V305.1H898.03V310.6ZM901.56 310.6V306.6H904.36V310.6ZM907.32 310.6L907.6 305.6L907.77 300.1L908.72 310.6ZM913.4 310.6L913.88 308.3L914.62 306.1L915.8 310.6ZM917.05 310.6V306.6H918.85V310.6ZM925.2 310.6L925.4 303.8L925.91 296.1L926.2 310.6ZM930.99 310.6L931.19 302.45L931.75 293.1L931.99 310.6ZM933.69 310.6L934.05 307.85L934.94 305.1L935.49 310.6ZM946.37 310.6V307.6H948.17V310.6ZM952.01 310.6V306.6H953.81V310.6ZM956.63 310.6V304.1H959.43V310.6ZM967.67 310.6V304.1H970.47V310.6ZM973.07 310.6L973.43 303.8L973.95 296.1L974.87 310.6ZM979.72 310.6L980 308.3L980.62 306.1L981.12 310.6ZM985.01 310.6L985.29 306.95L985.4 303.1L986.41 310.6ZM991.07 310.6V305.1H993.47V310.6ZM996.95 310.6L997.43 303.8L998.18 296.1L999.35 310.6ZM1001.24 310.6L1001.72 302.45L1002.26 293.1L1003.64 310.6ZM1005.74 310.6L1006.22 307.85L1006.61 305.1L1008.14 310.6ZM1013.79 310.6V306.6H1017.19V310.6ZM1018.64 310.6L1018.92 303.8L1019.21 296.1L1020.04 310.6ZM1023.76 310.6L1024.24 307.85L1024.92 305.1L1026.16 310.6ZM1029.45 310.6V305.1H1032.85V310.6ZM1033.15 310.6L1033.75 307.4L1034.54 304.1L1036.15 310.6ZM1039.63 310.6L1040.23 308.3L1041.01 306.1L1042.63 310.6ZM1047.85 310.6L1048.05 307.85L1048.36 305.1L1048.85 310.6ZM1050.02 310.6L1050.62 302.45L1051.3 293.1L1053.02 310.6ZM1056.92 310.6V306.6H1059.72V310.6ZM1067.75 310.6L1068.35 307.85L1069.42 305.1L1070.75 310.6ZM1073.1 310.6L1073.38 307.85L1073.96 305.1L1074.5 310.6ZM1079.75 310.6V305.1H1082.15V310.6ZM1086.17 310.6L1086.37 302.45L1086.56 293.1L1087.17 310.6ZM1090.73 310.6L1091.09 306.05L1091.85 301.1L1092.53 310.6ZM1097.21 310.6V305.1H1101.01V310.6ZM1100.49 310.6L1100.97 306.5L1102.01 302.1L1102.89 310.6ZM1107.14 310.6L1107.62 307.85L1108.68 305.1L1109.54 310.6ZM1112.58 310.6L1112.94 308.3L1113.76 306.1L1114.38 310.6ZM1117.27 310.6L1117.87 303.8L1118.51 296.1L1120.27 310.6ZM1124.12 310.6L1124.6 308.75L1125.18 307.1L1126.52 310.6ZM1129.86 310.6V307.6H1130.86V310.6ZM1135.87 310.6V305.1H1139.67V310.6ZM1139.88 310.6L1140.36 304.7L1140.8 298.1L1142.28 310.6ZM1145.3 310.6L1145.66 306.95L1145.81 303.1L1147.1 310.6ZM815.55 310.6L818.55 301.1L821.55 289.1L827.55 289.1L830.55 301.1L833.55 310.6ZM820.55 290.1h1.5V223.1h-1.5ZM826.05 304.1h1.7V229.1h-1.7ZM815.25 306.1h1V272.1h-1ZM832.55 306.1h1V262.1h-1ZM933.5 270.1h2.5V241.1h-2.5ZM933.5 310.6h5.8V269.1h-5.8ZM920.3 310.6L921.8 302.1L932.8 301.1L933.8 310.6ZM926.3 302.1h1V278.1h-1ZM1044.75 293.1h2.8V158.1h-2.8ZM1038.55 310.6L1040.55 293.1L1052.55 292.1L1054.25 310.6Z" fill="#fff"/>
<path d="M823.15 308.1h2.4V285.1h-2.4ZM1047.55 310.6h1.6V298.1h-1.6Z" fill="#111"/>
<path d="M714 160L714.8 160L716.2 310L714 310Z" fill="#fff"/>
<path d="M713.5 304h3.4M713.5 290.5h3.4M713.5 277h3.4M713.5 263.5h3.4M713.5 250h3.4M713.5 236.5h3.4M713.5 223h3.4M713.5 209.5h3.4M713.5 196h3.4M713.5 182.5h3.4M713.5 169h3.4" fill="none" stroke="#222" stroke-width="1.2"/>
<path d="M713.1 7.1L713.1 326.7" stroke="#222" stroke-width="1.4"/>
<path d="M704 311.4L1168 311.4" stroke="#666" stroke-width="2.7"/>
<path d="M713.1 13.8h4" fill="none" stroke="#333" stroke-width="1.3"/>
<path d="M1158.2 310.1v-5" fill="none" stroke="#333" stroke-width="1.3"/>
<text transform="translate(733.38 38.75) scale(0.1730 0.1980)">b1</text>
<text transform="translate(656.4 34.8) scale(0.1730 0.1980)">0.2</text>
<text transform="translate(653.63 169.46) scale(0.1730 0.1980)">0.1</text>
<text transform="translate(915.9 352.25) scale(0.1730 0.1980)">10</text>
<text transform="translate(1134.96 351.9) scale(0.1730 0.1980)">20</text>
<text transform="translate(873.43 394.12) scale(0.1730 0.1980)">Time (s)</text>
<path d="M1331.5 311.8L1331.5 23L1332.58 23L1335.98 23L1337.07 23L1338.15 23L1341.55 23L1342.63 23L1343.71 23L1347.11 23L1347.11 30.71L1347.17 50.51L1347.78 52.71L1347.98 82.74L1348.19 102.76L1348.41 82.74L1348.61 52.71L1349.22 50.51L1349.28 30.71L1349.28 29.11L1352.68 32.31L1352.68 91.35L1352.73 111.15L1353.35 113.35L1353.54 137.67L1353.76 153.88L1353.98 137.67L1354.17 113.35L1354.79 111.15L1354.84 91.35L1354.84 89.75L1358.24 92.95L1358.24 129.55L1358.3 149.35L1358.91 151.55L1359.11 171.19L1359.33 184.28L1359.54 171.19L1359.74 151.55L1360.35 149.35L1360.41 129.55L1360.41 127.95L1363.81 131.15L1363.81 155.65L1363.86 175.45L1364.48 177.65L1364.67 193.64L1364.89 204.31L1365.11 193.64L1365.3 177.65L1365.92 175.45L1365.97 155.65L1365.97 154.05L1369.37 157.25L1369.37 174.46L1369.43 194.26L1370.04 196.46L1370.24 209.63L1370.45 218.4L1370.67 209.63L1370.87 196.46L1371.48 194.26L1371.54 174.46L1371.54 172.86L1374.94 176.06L1374.94 188.56L1374.99 208.36L1375.61 210.56L1375.8 221.49L1376.02 228.78L1376.24 221.49L1376.43 210.56L1377.05 208.36L1377.1 188.56L1377.1 186.96L1380.5 190.16L1380.5 199.4L1380.56 219.2L1381.17 221.4L1381.37 230.55L1381.59 236.66L1381.8 230.55L1382 221.4L1382.61 219.2L1382.67 199.4L1382.67 197.8L1386.07 201L1386.07 207.89L1386.12 227.69L1386.74 229.89L1386.93 237.63L1387.15 242.79L1387.37 237.63L1387.56 229.89L1388.18 227.69L1388.23 207.89L1388.23 206.29L1391.63 209.49L1391.63 214.64L1391.69 234.44L1392.3 236.64L1392.5 243.23L1392.71 247.62L1392.93 243.23L1393.13 236.64L1393.74 234.44L1393.8 214.64L1393.8 213.04L1397.2 216.24L1397.2 220.03L1397.25 239.83L1397.87 242.03L1398.06 247.7L1398.28 251.48L1398.5 247.7L1398.69 242.03L1399.31 239.83L1399.36 220.03L1399.36 218.51L1402.76 221.46L1402.76 224.35L1402.82 244.15L1403.43 246.35L1403.63 251.28L1403.85 254.57L1404.06 251.28L1404.26 246.35L1404.87 244.15L1404.93 224.35L1404.93 223.13L1408.33 225.48L1408.33 227.78L1408.38 247.58L1409 249.78L1409.19 254.13L1409.41 257.03L1409.63 254.13L1409.82 249.78L1410.44 247.58L1410.49 227.78L1410.49 226.82L1413.89 228.68L1413.89 230.47L1413.95 250.27L1414.56 252.47L1414.76 256.38L1414.97 258.98L1415.19 256.38L1415.39 252.47L1416 250.27L1416.06 230.47L1416.06 229.72L1419.46 231.16L1419.46 232.52L1419.51 252.32L1420.13 254.52L1420.32 258.1L1420.54 260.49L1420.76 258.1L1420.95 254.52L1421.57 252.32L1421.62 232.52L1421.62 231.96L1425.02 233.03L1425.02 234.01L1425.08 253.81L1425.69 256.01L1425.89 259.37L1426.11 261.61L1426.32 259.37L1426.52 256.01L1427.13 253.81L1427.19 234.01L1427.19 233.61L1430.59 234.35L1430.59 234.97L1430.64 254.77L1431.26 256.97L1431.45 260.22L1431.67 262.39L1431.89 260.22L1432.08 256.97L1432.7 254.77L1432.75 234.97L1432.75 234.73L1436.15 235.16L1436.15 235.44L1436.21 255.24L1436.82 257.44L1437.02 260.69L1437.24 262.85L1437.45 260.69L1437.65 257.44L1438.26 255.24L1438.32 235.44L1438.32 235.35L1441.72 235.49L1441.72 235.49L1441.77 255.29L1442.39 257.49L1442.58 260.8L1442.8 263L1443.02 260.8L1443.21 257.49L1443.83 255.29L1443.88 235.49L1443.88 235.49L1447.28 235.35L1447.28 235.35L1447.34 255.15L1447.95 257.35L1448.15 260.65L1448.37 262.85L1448.58 260.65L1448.78 257.35L1449.39 255.15L1449.45 235.35L1449.45 235.16L1452.85 234.73L1452.85 234.73L1452.9 254.53L1453.52 256.73L1453.71 260.13L1453.93 262.39L1454.15 260.13L1454.34 256.73L1454.96 254.53L1455.01 234.73L1455.01 234.35L1458.41 233.61L1458.41 233.61L1458.47 253.41L1459.08 255.61L1459.28 259.21L1459.49 261.61L1459.71 259.21L1459.91 255.61L1460.52 253.41L1460.58 233.61L1460.58 233.03L1463.98 231.96L1463.98 231.96L1464.03 251.76L1464.65 253.96L1464.84 257.88L1465.06 260.49L1465.28 257.88L1465.47 253.96L1466.09 251.76L1466.14 231.96L1466.14 231.16L1469.54 229.72L1469.54 229.72L1469.6 249.52L1470.21 251.72L1470.41 256.08L1470.62 258.98L1470.84 256.08L1471.04 251.72L1471.65 249.52L1471.71 229.72L1471.71 228.68L1475.11 226.82L1475.11 226.82L1475.16 246.62L1475.78 248.82L1475.97 253.75L1476.19 257.03L1476.41 253.75L1476.6 248.82L1477.22 246.62L1477.27 226.82L1477.27 225.48L1480.67 223.13L1480.67 223.13L1480.73 242.93L1481.34 245.13L1481.54 250.79L1481.76 254.57L1481.97 250.79L1482.17 245.13L1482.78 242.93L1482.84 223.13L1482.84 221.46L1486.24 218.51L1486.24 218.51L1486.29 238.31L1486.91 240.51L1487.1 247.09L1487.32 251.48L1487.54 247.09L1487.73 240.51L1488.35 238.31L1488.4 218.51L1488.4 216.24L1491.8 213.04L1491.8 213.04L1491.86 232.84L1492.47 235.04L1492.67 242.59L1492.88 247.62L1493.1 242.59L1493.3 235.04L1493.91 232.84L1493.97 213.04L1493.97 209.49L1497.37 206.29L1497.37 206.29L1497.42 226.09L1498.04 228.29L1498.23 236.99L1498.45 242.79L1498.67 236.99L1498.86 228.29L1499.48 226.09L1499.53 206.29L1499.53 201L1502.93 197.8L1502.93 197.8L1502.99 217.6L1503.6 219.8L1503.8 229.91L1504.02 236.66L1504.23 229.91L1504.43 219.8L1505.04 217.6L1505.1 197.8L1505.1 190.16L1508.5 186.96L1508.5 186.96L1508.55 206.76L1509.17 208.96L1509.36 220.85L1509.58 228.78L1509.8 220.85L1509.99 208.96L1510.61 206.76L1510.66 186.96L1510.66 176.06L1514.06 172.86L1514.06 172.86L1514.12 192.66L1514.73 194.86L1514.93 208.99L1515.14 218.4L1515.36 208.99L1515.56 194.86L1516.17 192.66L1516.23 172.86L1516.23 157.25L1519.63 154.05L1519.63 154.05L1519.68 173.85L1520.3 176.05L1520.49 193L1520.71 204.31L1520.93 193L1521.12 176.05L1521.74 173.85L1521.79 154.05L1521.79 131.15L1525.19 127.95L1525.19 127.95L1525.25 147.75L1525.86 149.95L1526.06 170.55L1526.28 184.28L1526.49 170.55L1526.69 149.95L1527.3 147.75L1527.36 127.95L1527.36 92.95L1530.76 89.75L1530.76 89.75L1530.81 109.55L1531.43 111.75L1531.62 137.03L1531.84 153.88L1532.06 137.03L1532.25 111.75L1532.87 109.55L1532.92 89.75L1532.92 32.31L1536.32 29.11L1536.32 29.11L1536.38 48.91L1536.99 51.11L1537.19 82.1L1537.4 102.76L1537.62 82.1L1537.82 51.11L1538.43 48.91L1538.49 29.11L1538.49 23L1541.89 23L1542.97 23L1544.05 23L1547.45 23L1548.54 23L1549.62 23L1553.02 23L1554.1 23L1555.18 23L1558.58 23L1559.66 23L1560.75 23L1564.15 23L1565.23 23L1566.31 23L1569.71 23L1569.71 30.71L1569.77 50.51L1570.38 52.71L1570.58 82.74L1570.8 102.76L1571.01 82.74L1571.21 52.71L1571.82 50.51L1571.88 30.71L1571.88 29.11L1575.28 32.31L1575.28 91.35L1575.33 111.15L1575.95 113.35L1576.14 137.67L1576.36 153.88L1576.58 137.67L1576.77 113.35L1577.39 111.15L1577.44 91.35L1577.44 89.75L1580.84 92.95L1580.84 129.55L1580.9 149.35L1581.51 151.55L1581.71 171.19L1581.92 184.28L1582.14 171.19L1582.34 151.55L1582.95 149.35L1583.01 129.55L1583.01 127.95L1586.41 131.15L1586.41 155.65L1586.46 175.45L1587.08 177.65L1587.27 193.64L1587.49 204.31L1587.71 193.64L1587.9 177.65L1588.52 175.45L1588.57 155.65L1588.57 154.05L1591.97 157.25L1591.97 174.46L1592.03 194.26L1592.64 196.46L1592.84 209.63L1593.06 218.4L1593.27 209.63L1593.47 196.46L1594.08 194.26L1594.14 174.46L1594.14 172.86L1597.54 176.06L1597.54 188.56L1597.59 208.36L1598.21 210.56L1598.4 221.49L1598.62 228.78L1598.84 221.49L1599.03 210.56L1599.65 208.36L1599.7 188.56L1599.7 186.96L1603.1 190.16L1603.1 199.4L1603.16 219.2L1603.77 221.4L1603.97 230.55L1604.18 236.66L1604.4 230.55L1604.6 221.4L1605.21 219.2L1605.27 199.4L1605.27 197.8L1608.67 201L1608.67 207.89L1608.72 227.69L1609.34 229.89L1609.53 237.63L1609.75 242.79L1609.97 237.63L1610.16 229.89L1610.78 227.69L1610.83 207.89L1610.83 206.29L1614.23 209.49L1614.23 214.64L1614.29 234.44L1614.9 236.64L1615.1 243.23L1615.32 247.62L1615.53 243.23L1615.73 236.64L1616.34 234.44L1616.4 214.64L1616.4 213.04L1619.8 216.24L1619.8 220.03L1619.85 239.83L1620.47 242.03L1620.66 247.7L1620.88 251.48L1621.1 247.7L1621.29 242.03L1621.91 239.83L1621.96 220.03L1621.96 218.51L1625.36 221.46L1625.36 224.35L1625.42 244.15L1626.03 246.35L1626.23 251.28L1626.44 254.57L1626.66 251.28L1626.86 246.35L1627.47 244.15L1627.53 224.35L1627.53 223.13L1630.93 225.48L1630.93 227.78L1630.98 247.58L1631.6 249.78L1631.79 254.13L1632.01 257.03L1632.23 254.13L1632.42 249.78L1633.04 247.58L1633.09 227.78L1633.09 226.82L1636.49 228.68L1636.49 230.47L1636.55 250.27L1637.16 252.47L1637.36 256.38L1637.58 258.98L1637.79 256.38L1637.99 252.47L1638.6 250.27L1638.66 230.47L1638.66 229.72L1642.06 231.16L1642.06 232.52L1642.11 252.32L1642.73 254.52L1642.92 258.1L1643.14 260.49L1643.36 258.1L1643.55 254.52L1644.17 252.32L1644.22 232.52L1644.22 231.96L1647.62 233.03L1647.62 234.01L1647.68 253.81L1648.29 256.01L1648.49 259.37L1648.7 261.61L1648.92 259.37L1649.12 256.01L1649.73 253.81L1649.79 234.01L1649.79 233.61L1653.19 234.35L1653.19 234.97L1653.24 254.77L1653.86 256.97L1654.05 260.22L1654.27 262.39L1654.49 260.22L1654.68 256.97L1655.3 254.77L1655.35 234.97L1655.35 234.73L1658.75 235.16L1658.75 235.44L1658.81 255.24L1659.42 257.44L1659.62 260.69L1659.84 262.85L1660.05 260.69L1660.25 257.44L1660.86 255.24L1660.92 235.44L1660.92 235.35L1664.32 235.49L1664.32 235.49L1664.37 255.29L1664.99 257.49L1665.18 260.8L1665.4 263L1665.62 260.8L1665.81 257.49L1666.43 255.29L1666.48 235.49L1666.48 235.49L1669.88 235.35L1669.88 235.35L1669.94 255.15L1670.55 257.35L1670.75 260.65L1670.97 262.85L1671.18 260.65L1671.38 257.35L1671.99 255.15L1672.05 235.35L1672.05 235.16L1675.45 234.73L1675.45 234.73L1675.5 254.53L1676.12 256.73L1676.31 260.13L1676.53 262.39L1676.75 260.13L1676.94 256.73L1677.56 254.53L1677.61 234.73L1677.61 234.35L1681.01 233.61L1681.01 233.61L1681.07 253.41L1681.68 255.61L1681.88 259.21L1682.1 261.61L1682.31 259.21L1682.51 255.61L1683.12 253.41L1683.18 233.61L1683.18 233.03L1686.58 231.96L1686.58 231.96L1686.63 251.76L1687.25 253.96L1687.44 257.88L1687.66 260.49L1687.88 257.88L1688.07 253.96L1688.69 251.76L1688.74 231.96L1688.74 231.16L1692.14 229.72L1692.14 229.72L1692.2 249.52L1692.81 251.72L1693.01 256.08L1693.22 258.98L1693.44 256.08L1693.64 251.72L1694.25 249.52L1694.31 229.72L1694.31 228.68L1697.71 226.82L1697.71 226.82L1697.76 246.62L1698.38 248.82L1698.57 253.75L1698.79 257.03L1699.01 253.75L1699.2 248.82L1699.82 246.62L1699.87 226.82L1699.87 225.48L1703.27 223.13L1703.27 223.13L1703.33 242.93L1703.94 245.13L1704.14 250.79L1704.36 254.57L1704.57 250.79L1704.77 245.13L1705.38 242.93L1705.44 223.13L1705.44 221.46L1708.84 218.51L1708.84 218.51L1708.89 238.31L1709.51 240.51L1709.7 247.09L1709.92 251.48L1710.14 247.09L1710.33 240.51L1710.95 238.31L1711 218.51L1711 216.24L1714.4 213.04L1714.4 213.04L1714.46 232.84L1715.07 235.04L1715.27 242.59L1715.49 247.62L1715.7 242.59L1715.9 235.04L1716.51 232.84L1716.57 213.04L1716.57 209.49L1719.97 206.29L1719.97 206.29L1720.02 226.09L1720.64 228.29L1720.83 236.99L1721.05 242.79L1721.27 236.99L1721.46 228.29L1722.08 226.09L1722.13 206.29L1722.13 201L1725.53 197.8L1725.53 197.8L1725.59 217.6L1726.2 219.8L1726.4 229.91L1726.62 236.66L1726.83 229.91L1727.03 219.8L1727.64 217.6L1727.7 197.8L1727.7 190.16L1731.1 186.96L1731.1 186.96L1731.15 206.76L1731.77 208.96L1731.96 220.85L1732.18 228.78L1732.4 220.85L1732.59 208.96L1733.21 206.76L1733.26 186.96L1733.26 176.06L1736.66 172.86L1736.66 172.86L1736.72 192.66L1737.33 194.86L1737.53 208.99L1737.74 218.4L1737.96 208.99L1738.16 194.86L1738.77 192.66L1738.83 172.86L1738.83 157.25L1742.23 154.05L1742.23 154.05L1742.28 173.85L1742.9 176.05L1743.09 193L1743.31 204.31L1743.53 193L1743.72 176.05L1744.34 173.85L1744.39 154.05L1744.39 131.15L1747.79 127.95L1747.79 127.95L1747.85 147.75L1748.46 149.95L1748.66 170.55L1748.88 184.28L1749.09 170.55L1749.29 149.95L1749.9 147.75L1749.96 127.95L1749.96 92.95L1753.36 89.75L1753.36 89.75L1753.41 109.55L1754.03 111.75L1754.22 137.03L1754.44 153.88L1754.66 137.03L1754.85 111.75L1755.47 109.55L1755.52 89.75L1755.52 32.31L1758.92 29.11L1758.92 29.11L1758.98 48.91L1759.59 51.11L1759.79 82.1L1760.01 102.76L1760.22 82.1L1760.42 51.11L1761.03 48.91L1761.09 29.11L1761.09 23L1764.49 23L1765.57 23L1766.65 23L1770.05 23L1771.13 23L1772.22 23L1775.62 23L1776.7 23L1776.7 311.8Z" fill="#111"/>
<path d="M1336.24 312.3L1336.72 308.65L1337.75 304.8L1338.64 312.3ZM1347.12 312.3V305.8H1351.12V312.3ZM1353.34 312.3L1353.7 310L1354.26 307.8L1355.14 312.3ZM1364.7 312.3L1365.18 304.15L1365.72 294.8L1367.1 312.3ZM1370.7 312.3L1370.9 309.1L1371.05 305.8L1371.7 312.3ZM1391.44 312.3L1391.8 304.15L1392.35 294.8L1393.24 312.3ZM1396.97 312.3L1397.33 304.15L1397.78 294.8L1398.77 312.3ZM1403.41 312.3L1404.01 308.2L1404.56 303.8L1406.41 312.3ZM1409.77 312.3L1409.97 310.45L1410.15 308.8L1410.77 312.3ZM1414.27 312.3L1414.75 307.75L1415.7 302.8L1416.67 312.3ZM1419.21 312.3V305.8H1422.61V312.3ZM1426.19 312.3V305.8H1429.59V312.3ZM1431.56 312.3L1432.04 309.55L1432.75 306.8L1433.96 312.3ZM1437.11 312.3V305.8H1440.51V312.3ZM1441.94 312.3V305.8H1445.34V312.3ZM1447.17 312.3L1447.45 310L1447.73 307.8L1448.57 312.3ZM1464.49 312.3L1464.97 308.2L1465.94 303.8L1466.89 312.3ZM1475.39 312.3V309.3H1478.39V312.3ZM1482.09 312.3L1482.29 305.5L1482.35 297.8L1483.09 312.3ZM1488.08 312.3L1488.28 310L1488.8 307.8L1489.08 312.3ZM1493.37 312.3V308.3H1496.17V312.3ZM1496.1 312.3V309.3H1500.5V312.3ZM1504.33 312.3V309.3H1507.33V312.3ZM1508.55 312.3L1508.75 310.45L1509.04 308.8L1509.55 312.3ZM1513.97 312.3L1514.25 306.4L1514.34 299.8L1515.37 312.3ZM1520.71 312.3L1520.99 308.65L1521.44 304.8L1522.11 312.3ZM1524.4 312.3L1524.88 309.55L1525.31 306.8L1526.8 312.3ZM1531.04 312.3V309.3H1532.44V312.3ZM1535.83 312.3V309.3H1538.23V312.3ZM1541.74 312.3V309.3H1544.54V312.3ZM1549.37 312.3V308.3H1552.37V312.3ZM1558.44 312.3L1558.64 307.75L1559.08 302.8L1559.44 312.3ZM1562.78 312.3L1563.38 307.75L1563.94 302.8L1565.78 312.3ZM1568.72 312.3L1569.2 309.1L1570.09 305.8L1571.12 312.3ZM1574.84 312.3V305.8H1578.24V312.3ZM1580.74 312.3L1581.1 310L1581.37 307.8L1582.54 312.3ZM1585.48 312.3L1585.76 309.55L1586.16 306.8L1586.88 312.3ZM1592.34 312.3L1592.54 309.1L1593.2 305.8L1593.34 312.3ZM1596.13 312.3V305.8H1599.13V312.3ZM1608.92 312.3L1609.12 305.5L1609.82 297.8L1609.92 312.3ZM1614.63 312.3L1614.91 308.65L1615.37 304.8L1616.03 312.3ZM1620.06 312.3L1620.34 304.15L1620.37 294.8L1621.46 312.3ZM1625.5 312.3L1625.86 310.45L1626.64 308.8L1627.3 312.3ZM1630.97 312.3L1631.33 309.1L1632.17 305.8L1632.77 312.3ZM1640.87 312.3V306.8H1645.27V312.3ZM1647.63 312.3V306.8H1651.63V312.3ZM1653.49 312.3L1654.09 309.55L1654.62 306.8L1656.49 312.3ZM1657.11 312.3V309.3H1661.11V312.3ZM1664.96 312.3V309.3H1668.76V312.3ZM1670.61 312.3V306.8H1671.61V312.3ZM1675.63 312.3L1676.11 309.55L1677.01 306.8L1678.03 312.3ZM1680.29 312.3V306.8H1683.09V312.3ZM1687.21 312.3L1687.49 308.65L1687.56 304.8L1688.61 312.3ZM1692.76 312.3L1693.04 308.2L1693.8 303.8L1694.16 312.3ZM1697.64 312.3L1698 309.55L1698.49 306.8L1699.44 312.3ZM1709.39 312.3L1709.59 310L1709.98 307.8L1710.39 312.3ZM1714.12 312.3V306.8H1717.12V312.3ZM1726.58 312.3L1726.78 310L1727.27 307.8L1727.58 312.3ZM1736.38 312.3L1736.98 307.75L1738 302.8L1739.38 312.3ZM1742.41 312.3L1743.01 305.5L1744.1 297.8L1745.41 312.3ZM1749.22 312.3L1749.42 308.2L1750.03 303.8L1750.22 312.3ZM1764.66 312.3L1765.02 308.65L1765.45 304.8L1766.46 312.3ZM1771.15 312.3L1771.43 309.55L1771.62 306.8L1772.55 312.3ZM1552.3 227.8h1.4V164.8h-1.4ZM1552 306.8h4.8V226.8h-4.8ZM1537.1 312.3L1540.1 293.8L1546.1 292.8L1551.1 303.8L1559.1 303.8L1559.6 312.3ZM1544.9 292.8h1V231.8h-1ZM1540.5 292.8h0.9V255.8h-0.9Z" fill="#fff"/>
<path d="M1553.1 312.3h1.4V303.8h-1.4Z" fill="#111"/>
<path d="M1332.4 62L1333.2 62L1335.2 311.5L1332.4 311.5Z" fill="#fff"/>
<path d="M1331.9 303.5h4M1331.9 287.3h4M1331.9 271.1h4M1331.9 254.9h4M1331.9 238.7h4M1331.9 222.5h4M1331.9 206.3h4M1331.9 190.1h4M1331.9 173.9h4M1331.9 157.7h4M1331.9 141.5h4M1331.9 125.3h4M1331.9 109.1h4M1331.9 92.9h4M1331.9 76.7h4" fill="none" stroke="#222" stroke-width="1.2"/>
<path d="M1331.5 8L1331.5 328.3" stroke="#222" stroke-width="1.4"/>
<path d="M1322.7 313L1785.9 313" stroke="#333" stroke-width="2.5"/>
<path d="M1776.7 311.8v-5" fill="none" stroke="#333" stroke-width="1.3"/>
<text transform="translate(1362.11 42.16) scale(0.1730 0.1980)">c1</text>
<text transform="translate(1247.01 73.86) scale(0.1730 0.1980)">0.08</text>
<text transform="translate(1249.33 201.35) scale(0.1730 0.1980)">0.04</text>
<text transform="translate(1527.75 349.61) scale(0.1730 0.1980)">10</text>
<text transform="translate(1750.56 352.46) scale(0.1730 0.1980)">20</text>
<text transform="translate(1485.73 390.72) scale(0.1730 0.1980)">Time (s)</text>
<path d="M114.5 440.5L114.5 772.7" stroke="#2a2a2a" stroke-width="1.6"/>
<path d="M105 756.3L586 756.3" stroke="#444" stroke-width="2.5"/>
<path d="M114.5 765.34h3.8M114.5 747.26h3.8M114.5 738.22h3.8M114.5 729.18h3.8M114.5 720.14h3.8M114.5 702.06h3.8M114.5 693.02h3.8M114.5 683.98h3.8M114.5 674.94h3.8M114.5 656.86h3.8M114.5 647.82h3.8M114.5 638.78h3.8M114.5 629.74h3.8M114.5 611.66h3.8M114.5 602.62h3.8M114.5 593.58h3.8M114.5 584.54h3.8M114.5 566.46h3.8M114.5 557.42h3.8M114.5 548.38h3.8M114.5 539.34h3.8M114.5 521.26h3.8M114.5 512.22h3.8M114.5 503.18h3.8M114.5 494.14h3.8M114.5 476.06h3.8M114.5 467.02h3.8M114.5 457.98h3.8M114.5 448.94h3.8" fill="none" stroke="#333" stroke-width="1.2"/>
<path d="M114.5 711.1h6.5M114.5 665.9h6.5M114.5 620.7h6.5M114.5 575.5h6.5M114.5 530.3h6.5M114.5 485.1h6.5" fill="none" stroke="#333" stroke-width="1.5"/>
<path d="M137.39 756.3v-4.5M160.48 756.3v-4.5M183.57 756.3v-4.5M206.66 756.3v-4.5M252.84 756.3v-4.5M275.93 756.3v-4.5M299.02 756.3v-4.5M322.11 756.3v-4.5M368.29 756.3v-4.5M391.38 756.3v-4.5M414.47 756.3v-4.5M437.56 756.3v-4.5M483.74 756.3v-4.5M506.83 756.3v-4.5M529.92 756.3v-4.5M553.01 756.3v-4.5" fill="none" stroke="#333" stroke-width="1.2"/>
<path d="M229.75 756.3v-7.5M345.2 756.3v-7.5M460.65 756.3v-7.5M576.1 756.3v-7.5" fill="none" stroke="#333" stroke-width="1.5"/>
<path d="M116.71 455.8L116.71 456.53L116.73 458.68L116.76 462.22L116.79 467.05L116.84 473.06L116.89 480.1L116.96 488.04L117.04 496.71L117.12 505.96L117.22 515.64L117.32 525.61L117.44 535.73L117.57 545.9L117.7 556.01L117.85 565.98L118 575.75L118.17 585.27L118.34 594.48L118.53 603.36L118.72 611.9L118.93 620.07L119.14 627.88L119.36 635.31L119.59 642.39L119.83 649.1L120.08 655.47L120.34 661.5L120.61 667.2L120.88 672.6L121.17 677.7L121.46 682.52L121.76 687.07L122.07 691.37L122.39 695.43L122.71 699.26L123.05 702.87L123.39 706.28L123.74 709.5L124.09 712.55L124.46 715.42L124.83 718.13L125.21 720.69L125.59 723.1L125.98 725.38L126.38 727.54L126.79 729.57L127.2 731.49L127.61 733.31L128.04 735.02L128.47 736.63L128.9 738.16L129.34 739.6L129.79 740.95L130.24 742.23L130.69 743.43L131.15 744.57L131.62 745.63L132.09 746.63L132.56 747.57L133.04 748.45L133.52 749.27L134.01 750.04L134.5 750.76L134.99 751.43L135.48 752.04L135.98 752.61L136.48 753.14L136.99 753.62L137.49 754.06L138 754.46L138.51 754.81L139.02 755.13L139.54 755.41L140.05 755.65L140.57 755.85L141.09 756.01L141.61 756.14L142.12 756.23L142.64 756.28L143.16 756.3L143.68 756.28L144.2 756.23L144.72 756.14L145.24 756.01L145.76 755.85L146.27 755.65L146.79 755.41L147.3 755.13L147.81 754.81L148.32 754.46L148.83 754.06L149.34 753.62L149.84 753.14L150.34 752.61L150.84 752.04L151.34 751.43L151.83 750.76L152.32 750.04L152.8 749.27L153.29 748.45L153.76 747.57L154.24 746.63L154.71 745.63L155.17 744.57L155.63 743.43L156.09 742.23L156.54 740.95L156.98 739.6L157.42 738.16L157.86 736.63L158.29 735.02L158.71 733.31L159.13 731.49L159.54 729.57L159.94 727.54L160.34 725.38L160.73 723.1L161.12 720.69L161.5 718.13L161.87 715.42L162.23 712.55L162.59 709.5L162.94 706.28L163.28 702.87L163.61 699.26L163.94 695.43L164.25 691.37L164.56 687.07L164.86 682.52L165.16 677.7L165.44 672.6L165.72 667.2L165.98 661.5L166.24 655.47L166.49 649.1L166.73 642.39L166.96 635.31L167.19 627.88L167.4 620.07L167.6 611.9L167.8 603.36L167.98 594.48L168.16 585.27L168.32 575.75L168.48 565.98L168.62 556.01L168.76 545.9L168.88 535.73L169 525.61L169.11 515.64L169.2 505.96L169.29 496.71L169.37 488.04L169.43 480.1L169.49 473.06L169.53 467.05L169.57 462.22L169.6 458.68L169.61 456.53L169.62 455.8M174.43 455.8L174.44 456.53L174.45 458.68L174.48 462.22L174.52 467.05L174.56 473.06L174.62 480.1L174.68 488.04L174.76 496.71L174.85 505.96L174.94 515.64L175.05 525.61L175.17 535.73L175.29 545.9L175.43 556.01L175.57 565.98L175.73 575.75L175.89 585.27L176.07 594.48L176.25 603.36L176.45 611.9L176.65 620.07L176.86 627.88L177.09 635.31L177.32 642.39L177.56 649.1L177.81 655.47L178.07 661.5L178.33 667.2L178.61 672.6L178.89 677.7L179.19 682.52L179.49 687.07L179.8 691.37L180.11 695.43L180.44 699.26L180.77 702.87L181.11 706.28L181.46 709.5L181.82 712.55L182.18 715.42L182.55 718.13L182.93 720.69L183.32 723.1L183.71 725.38L184.11 727.54L184.51 729.57L184.92 731.49L185.34 733.31L185.76 735.02L186.19 736.63L186.63 738.16L187.07 739.6L187.51 740.95L187.96 742.23L188.42 743.43L188.88 744.57L189.34 745.63L189.81 746.63L190.29 747.57L190.76 748.45L191.25 749.27L191.73 750.04L192.22 750.76L192.71 751.43L193.21 752.04L193.71 752.61L194.21 753.14L194.71 753.62L195.22 754.06L195.73 754.46L196.24 754.81L196.75 755.13L197.26 755.41L197.78 755.65L198.29 755.85L198.81 756.01L199.33 756.14L199.85 756.23L200.37 756.28L200.89 756.3L201.41 756.28L201.93 756.23L202.44 756.14L202.96 756.01L203.48 755.85L204 755.65L204.51 755.41L205.03 755.13L205.54 754.81L206.05 754.46L206.56 754.06L207.06 753.62L207.57 753.14L208.07 752.61L208.57 752.04L209.06 751.43L209.55 750.76L210.04 750.04L210.53 749.27L211.01 748.45L211.49 747.57L211.96 746.63L212.43 745.63L212.9 744.57L213.36 743.43L213.81 742.23L214.26 740.95L214.71 739.6L215.15 738.16L215.58 736.63L216.01 735.02L216.44 733.31L216.85 731.49L217.26 729.57L217.67 727.54L218.07 725.38L218.46 723.1L218.84 720.69L219.22 718.13L219.59 715.42L219.96 712.55L220.31 709.5L220.66 706.28L221 702.87L221.34 699.26L221.66 695.43L221.98 691.37L222.29 687.07L222.59 682.52L222.88 677.7L223.17 672.6L223.44 667.2L223.71 661.5L223.97 655.47L224.22 649.1L224.46 642.39L224.69 635.31L224.91 627.88L225.12 620.07L225.33 611.9L225.52 603.36L225.71 594.48L225.88 585.27L226.05 575.75L226.2 565.98L226.35 556.01L226.48 545.9L226.61 535.73L226.73 525.61L226.83 515.64L226.93 505.96L227.01 496.71L227.09 488.04L227.16 480.1L227.21 473.06L227.26 467.05L227.29 462.22L227.32 458.68L227.34 456.53L227.34 455.8M232.16 455.8L232.16 456.53L232.18 458.68L232.21 462.22L232.24 467.05L232.29 473.06L232.34 480.1L232.41 488.04L232.49 496.71L232.57 505.96L232.67 515.64L232.77 525.61L232.89 535.73L233.02 545.9L233.15 556.01L233.3 565.98L233.45 575.75L233.62 585.27L233.79 594.48L233.98 603.36L234.17 611.9L234.38 620.07L234.59 627.88L234.81 635.31L235.04 642.39L235.28 649.1L235.53 655.47L235.79 661.5L236.06 667.2L236.33 672.6L236.62 677.7L236.91 682.52L237.21 687.07L237.52 691.37L237.84 695.43L238.16 699.26L238.5 702.87L238.84 706.28L239.19 709.5L239.54 712.55L239.91 715.42L240.28 718.13L240.66 720.69L241.04 723.1L241.43 725.38L241.83 727.54L242.24 729.57L242.65 731.49L243.06 733.31L243.49 735.02L243.92 736.63L244.35 738.16L244.79 739.6L245.24 740.95L245.69 742.23L246.14 743.43L246.6 744.57L247.07 745.63L247.54 746.63L248.01 747.57L248.49 748.45L248.97 749.27L249.46 750.04L249.95 750.76L250.44 751.43L250.93 752.04L251.43 752.61L251.93 753.14L252.44 753.62L252.94 754.06L253.45 754.46L253.96 754.81L254.47 755.13L254.99 755.41L255.5 755.65L256.02 755.85L256.54 756.01L257.06 756.14L257.57 756.23L258.09 756.28L258.61 756.3L259.13 756.28L259.65 756.23L260.17 756.14L260.69 756.01L261.21 755.85L261.72 755.65L262.24 755.41L262.75 755.13L263.26 754.81L263.77 754.46L264.28 754.06L264.79 753.62L265.29 753.14L265.79 752.61L266.29 752.04L266.79 751.43L267.28 750.76L267.77 750.04L268.25 749.27L268.74 748.45L269.21 747.57L269.69 746.63L270.16 745.63L270.62 744.57L271.08 743.43L271.54 742.23L271.99 740.95L272.43 739.6L272.87 738.16L273.31 736.63L273.74 735.02L274.16 733.31L274.58 731.49L274.99 729.57L275.39 727.54L275.79 725.38L276.18 723.1L276.57 720.69L276.95 718.13L277.32 715.42L277.68 712.55L278.04 709.5L278.39 706.28L278.73 702.87L279.06 699.26L279.39 695.43L279.7 691.37L280.01 687.07L280.31 682.52L280.61 677.7L280.89 672.6L281.17 667.2L281.43 661.5L281.69 655.47L281.94 649.1L282.18 642.39L282.41 635.31L282.64 627.88L282.85 620.07L283.05 611.9L283.25 603.36L283.43 594.48L283.61 585.27L283.77 575.75L283.93 565.98L284.07 556.01L284.21 545.9L284.33 535.73L284.45 525.61L284.56 515.64L284.65 505.96L284.74 496.71L284.82 488.04L284.88 480.1L284.94 473.06L284.98 467.05L285.02 462.22L285.05 458.68L285.06 456.53L285.07 455.8M289.88 455.8L289.89 456.53L289.9 458.68L289.93 462.22L289.97 467.05L290.01 473.06L290.07 480.1L290.13 488.04L290.21 496.71L290.3 505.96L290.39 515.64L290.5 525.61L290.62 535.73L290.74 545.9L290.88 556.01L291.02 565.98L291.18 575.75L291.34 585.27L291.52 594.48L291.7 603.36L291.9 611.9L292.1 620.07L292.31 627.88L292.54 635.31L292.77 642.39L293.01 649.1L293.26 655.47L293.52 661.5L293.78 667.2L294.06 672.6L294.34 677.7L294.64 682.52L294.94 687.07L295.25 691.37L295.56 695.43L295.89 699.26L296.22 702.87L296.56 706.28L296.91 709.5L297.27 712.55L297.63 715.42L298 718.13L298.38 720.69L298.77 723.1L299.16 725.38L299.56 727.54L299.96 729.57L300.37 731.49L300.79 733.31L301.21 735.02L301.64 736.63L302.08 738.16L302.52 739.6L302.96 740.95L303.41 742.23L303.87 743.43L304.33 744.57L304.79 745.63L305.26 746.63L305.74 747.57L306.21 748.45L306.7 749.27L307.18 750.04L307.67 750.76L308.16 751.43L308.66 752.04L309.16 752.61L309.66 753.14L310.16 753.62L310.67 754.06L311.18 754.46L311.69 754.81L312.2 755.13L312.71 755.41L313.23 755.65L313.74 755.85L314.26 756.01L314.78 756.14L315.3 756.23L315.82 756.28L316.34 756.3L316.86 756.28L317.38 756.23L317.89 756.14L318.41 756.01L318.93 755.85L319.45 755.65L319.96 755.41L320.48 755.13L320.99 754.81L321.5 754.46L322.01 754.06L322.51 753.62L323.02 753.14L323.52 752.61L324.02 752.04L324.51 751.43L325 750.76L325.49 750.04L325.98 749.27L326.46 748.45L326.94 747.57L327.41 746.63L327.88 745.63L328.35 744.57L328.81 743.43L329.26 742.23L329.71 740.95L330.16 739.6L330.6 738.16L331.03 736.63L331.46 735.02L331.89 733.31L332.3 731.49L332.71 729.57L333.12 727.54L333.52 725.38L333.91 723.1L334.29 720.69L334.67 718.13L335.04 715.42L335.41 712.55L335.76 709.5L336.11 706.28L336.45 702.87L336.79 699.26L337.11 695.43L337.43 691.37L337.74 687.07L338.04 682.52L338.33 677.7L338.62 672.6L338.89 667.2L339.16 661.5L339.42 655.47L339.67 649.1L339.91 642.39L340.14 635.31L340.36 627.88L340.57 620.07L340.78 611.9L340.97 603.36L341.16 594.48L341.33 585.27L341.5 575.75L341.65 565.98L341.8 556.01L341.93 545.9L342.06 535.73L342.18 525.61L342.28 515.64L342.38 505.96L342.46 496.71L342.54 488.04L342.61 480.1L342.66 473.06L342.71 467.05L342.74 462.22L342.77 458.68L342.79 456.53L342.79 455.8M347.61 455.8L347.61 456.53L347.63 458.68L347.66 462.22L347.69 467.05L347.74 473.06L347.79 480.1L347.86 488.04L347.94 496.71L348.02 505.96L348.12 515.64L348.22 525.61L348.34 535.73L348.47 545.9L348.6 556.01L348.75 565.98L348.9 575.75L349.07 585.27L349.24 594.48L349.43 603.36L349.62 611.9L349.83 620.07L350.04 627.88L350.26 635.31L350.49 642.39L350.73 649.1L350.98 655.47L351.24 661.5L351.51 667.2L351.78 672.6L352.07 677.7L352.36 682.52L352.66 687.07L352.97 691.37L353.29 695.43L353.61 699.26L353.95 702.87L354.29 706.28L354.64 709.5L354.99 712.55L355.36 715.42L355.73 718.13L356.11 720.69L356.49 723.1L356.88 725.38L357.28 727.54L357.69 729.57L358.1 731.49L358.51 733.31L358.94 735.02L359.37 736.63L359.8 738.16L360.24 739.6L360.69 740.95L361.14 742.23L361.59 743.43L362.05 744.57L362.52 745.63L362.99 746.63L363.46 747.57L363.94 748.45L364.42 749.27L364.91 750.04L365.4 750.76L365.89 751.43L366.38 752.04L366.88 752.61L367.38 753.14L367.89 753.62L368.39 754.06L368.9 754.46L369.41 754.81L369.92 755.13L370.44 755.41L370.95 755.65L371.47 755.85L371.99 756.01L372.51 756.14L373.02 756.23L373.54 756.28L374.06 756.3L374.58 756.28L375.1 756.23L375.62 756.14L376.14 756.01L376.66 755.85L377.17 755.65L377.69 755.41L378.2 755.13L378.71 754.81L379.22 754.46L379.73 754.06L380.24 753.62L380.74 753.14L381.24 752.61L381.74 752.04L382.24 751.43L382.73 750.76L383.22 750.04L383.7 749.27L384.19 748.45L384.66 747.57L385.14 746.63L385.61 745.63L386.07 744.57L386.53 743.43L386.99 742.23L387.44 740.95L387.88 739.6L388.32 738.16L388.76 736.63L389.19 735.02L389.61 733.31L390.03 731.49L390.44 729.57L390.84 727.54L391.24 725.38L391.63 723.1L392.02 720.69L392.4 718.13L392.77 715.42L393.13 712.55L393.49 709.5L393.84 706.28L394.18 702.87L394.51 699.26L394.84 695.43L395.15 691.37L395.46 687.07L395.76 682.52L396.06 677.7L396.34 672.6L396.62 667.2L396.88 661.5L397.14 655.47L397.39 649.1L397.63 642.39L397.86 635.31L398.09 627.88L398.3 620.07L398.5 611.9L398.7 603.36L398.88 594.48L399.06 585.27L399.22 575.75L399.38 565.98L399.52 556.01L399.66 545.9L399.78 535.73L399.9 525.61L400.01 515.64L400.1 505.96L400.19 496.71L400.27 488.04L400.33 480.1L400.39 473.06L400.43 467.05L400.47 462.22L400.5 458.68L400.51 456.53L400.52 455.8M405.33 455.8L405.34 456.53L405.35 458.68L405.38 462.22L405.42 467.05L405.46 473.06L405.52 480.1L405.58 488.04L405.66 496.71L405.75 505.96L405.84 515.64L405.95 525.61L406.07 535.73L406.19 545.9L406.33 556.01L406.47 565.98L406.63 575.75L406.79 585.27L406.97 594.48L407.15 603.36L407.35 611.9L407.55 620.07L407.76 627.88L407.99 635.31L408.22 642.39L408.46 649.1L408.71 655.47L408.97 661.5L409.23 667.2L409.51 672.6L409.79 677.7L410.09 682.52L410.39 687.07L410.7 691.37L411.01 695.43L411.34 699.26L411.67 702.87L412.01 706.28L412.36 709.5L412.72 712.55L413.08 715.42L413.45 718.13L413.83 720.69L414.22 723.1L414.61 725.38L415.01 727.54L415.41 729.57L415.82 731.49L416.24 733.31L416.66 735.02L417.09 736.63L417.53 738.16L417.97 739.6L418.41 740.95L418.86 742.23L419.32 743.43L419.78 744.57L420.24 745.63L420.71 746.63L421.19 747.57L421.66 748.45L422.15 749.27L422.63 750.04L423.12 750.76L423.61 751.43L424.11 752.04L424.61 752.61L425.11 753.14L425.61 753.62L426.12 754.06L426.63 754.46L427.14 754.81L427.65 755.13L428.16 755.41L428.68 755.65L429.19 755.85L429.71 756.01L430.23 756.14L430.75 756.23L431.27 756.28L431.79 756.3L432.31 756.28L432.83 756.23L433.34 756.14L433.86 756.01L434.38 755.85L434.9 755.65L435.41 755.41L435.93 755.13L436.44 754.81L436.95 754.46L437.46 754.06L437.96 753.62L438.47 753.14L438.97 752.61L439.47 752.04L439.96 751.43L440.45 750.76L440.94 750.04L441.43 749.27L441.91 748.45L442.39 747.57L442.86 746.63L443.33 745.63L443.8 744.57L444.26 743.43L444.71 742.23L445.16 740.95L445.61 739.6L446.05 738.16L446.48 736.63L446.91 735.02L447.34 733.31L447.75 731.49L448.16 729.57L448.57 727.54L448.97 725.38L449.36 723.1L449.74 720.69L450.12 718.13L450.49 715.42L450.86 712.55L451.21 709.5L451.56 706.28L451.9 702.87L452.24 699.26L452.56 695.43L452.88 691.37L453.19 687.07L453.49 682.52L453.78 677.7L454.07 672.6L454.34 667.2L454.61 661.5L454.87 655.47L455.12 649.1L455.36 642.39L455.59 635.31L455.81 627.88L456.02 620.07L456.23 611.9L456.42 603.36L456.61 594.48L456.78 585.27L456.95 575.75L457.1 565.98L457.25 556.01L457.38 545.9L457.51 535.73L457.63 525.61L457.73 515.64L457.83 505.96L457.91 496.71L457.99 488.04L458.06 480.1L458.11 473.06L458.16 467.05L458.19 462.22L458.22 458.68L458.24 456.53L458.24 455.8M463.06 455.8L463.06 456.53L463.08 458.68L463.11 462.22L463.14 467.05L463.19 473.06L463.24 480.1L463.31 488.04L463.39 496.71L463.47 505.96L463.57 515.64L463.67 525.61L463.79 535.73L463.92 545.9L464.05 556.01L464.2 565.98L464.35 575.75L464.52 585.27L464.69 594.48L464.88 603.36L465.07 611.9L465.28 620.07L465.49 627.88L465.71 635.31L465.94 642.39L466.18 649.1L466.43 655.47L466.69 661.5L466.96 667.2L467.23 672.6L467.52 677.7L467.81 682.52L468.11 687.07L468.42 691.37L468.74 695.43L469.06 699.26L469.4 702.87L469.74 706.28L470.09 709.5L470.44 712.55L470.81 715.42L471.18 718.13L471.56 720.69L471.94 723.1L472.33 725.38L472.73 727.54L473.14 729.57L473.55 731.49L473.96 733.31L474.39 735.02L474.82 736.63L475.25 738.16L475.69 739.6L476.14 740.95L476.59 742.23L477.04 743.43L477.5 744.57L477.97 745.63L478.44 746.63L478.91 747.57L479.39 748.45L479.87 749.27L480.36 750.04L480.85 750.76L481.34 751.43L481.83 752.04L482.33 752.61L482.83 753.14L483.34 753.62L483.84 754.06L484.35 754.46L484.86 754.81L485.37 755.13L485.89 755.41L486.4 755.65L486.92 755.85L487.44 756.01L487.96 756.14L488.47 756.23L488.99 756.28L489.51 756.3L490.03 756.28L490.55 756.23L491.07 756.14L491.59 756.01L492.11 755.85L492.62 755.65L493.14 755.41L493.65 755.13L494.16 754.81L494.67 754.46L495.18 754.06L495.69 753.62L496.19 753.14L496.69 752.61L497.19 752.04L497.69 751.43L498.18 750.76L498.67 750.04L499.15 749.27L499.64 748.45L500.11 747.57L500.59 746.63L501.06 745.63L501.52 744.57L501.98 743.43L502.44 742.23L502.89 740.95L503.33 739.6L503.77 738.16L504.21 736.63L504.64 735.02L505.06 733.31L505.48 731.49L505.89 729.57L506.29 727.54L506.69 725.38L507.08 723.1L507.47 720.69L507.85 718.13L508.22 715.42L508.58 712.55L508.94 709.5L509.29 706.28L509.63 702.87L509.96 699.26L510.29 695.43L510.6 691.37L510.91 687.07L511.21 682.52L511.51 677.7L511.79 672.6L512.07 667.2L512.33 661.5L512.59 655.47L512.84 649.1L513.08 642.39L513.31 635.31L513.54 627.88L513.75 620.07L513.95 611.9L514.15 603.36L514.33 594.48L514.51 585.27L514.67 575.75L514.83 565.98L514.97 556.01L515.11 545.9L515.23 535.73L515.35 525.61L515.46 515.64L515.55 505.96L515.64 496.71L515.72 488.04L515.78 480.1L515.84 473.06L515.88 467.05L515.92 462.22L515.95 458.68L515.96 456.53L515.97 455.8M520.78 455.8L520.79 456.53L520.8 458.68L520.83 462.22L520.87 467.05L520.91 473.06L520.97 480.1L521.03 488.04L521.11 496.71L521.2 505.96L521.29 515.64L521.4 525.61L521.52 535.73L521.64 545.9L521.78 556.01L521.92 565.98L522.08 575.75L522.24 585.27L522.42 594.48L522.6 603.36L522.8 611.9L523 620.07L523.21 627.88L523.44 635.31L523.67 642.39L523.91 649.1L524.16 655.47L524.42 661.5L524.68 667.2L524.96 672.6L525.24 677.7L525.54 682.52L525.84 687.07L526.15 691.37L526.46 695.43L526.79 699.26L527.12 702.87L527.46 706.28L527.81 709.5L528.17 712.55L528.53 715.42L528.9 718.13L529.28 720.69L529.67 723.1L530.06 725.38L530.46 727.54L530.86 729.57L531.27 731.49L531.69 733.31L532.11 735.02L532.54 736.63L532.98 738.16L533.42 739.6L533.86 740.95L534.31 742.23L534.77 743.43L535.23 744.57L535.69 745.63L536.16 746.63L536.64 747.57L537.11 748.45L537.6 749.27L538.08 750.04L538.57 750.76L539.06 751.43L539.56 752.04L540.06 752.61L540.56 753.14L541.06 753.62L541.57 754.06L542.08 754.46L542.59 754.81L543.1 755.13L543.61 755.41L544.13 755.65L544.64 755.85L545.16 756.01L545.68 756.14L546.2 756.23L546.72 756.28L547.24 756.3L547.76 756.28L548.28 756.23L548.79 756.14L549.31 756.01L549.83 755.85L550.35 755.65L550.86 755.41L551.38 755.13L551.89 754.81L552.4 754.46L552.91 754.06L553.41 753.62L553.92 753.14L554.42 752.61L554.92 752.04L555.41 751.43L555.9 750.76L556.39 750.04L556.88 749.27L557.36 748.45L557.84 747.57L558.31 746.63L558.78 745.63L559.25 744.57L559.71 743.43L560.16 742.23L560.61 740.95L561.06 739.6L561.5 738.16L561.93 736.63L562.36 735.02L562.79 733.31L563.2 731.49L563.61 729.57L564.02 727.54L564.42 725.38L564.81 723.1L565.19 720.69L565.57 718.13L565.94 715.42L566.31 712.55L566.66 709.5L567.01 706.28L567.35 702.87L567.69 699.26L568.01 695.43L568.33 691.37L568.64 687.07L568.94 682.52L569.23 677.7L569.52 672.6L569.79 667.2L570.06 661.5L570.32 655.47L570.57 649.1L570.81 642.39L571.04 635.31L571.26 627.88L571.47 620.07L571.68 611.9L571.87 603.36L572.06 594.48L572.23 585.27L572.4 575.75L572.55 565.98L572.7 556.01L572.83 545.9L572.96 535.73L573.08 525.61L573.18 515.64L573.28 505.96L573.36 496.71L573.44 488.04L573.51 480.1L573.56 473.06L573.61 467.05L573.64 462.22L573.67 458.68L573.69 456.53L573.69 455.8" fill="none" stroke="#111" stroke-width="2.8" stroke-linejoin="round"/>
<text transform="translate(123.07 469.36) scale(0.1730 0.1980)">a2</text>
<text transform="translate(86.34 544.86) scale(0.1730 0.1980)">6</text>
<text transform="translate(86.35 681.61) scale(0.1730 0.1980)">3</text>
<text transform="translate(326.75 791.86) scale(0.1730 0.1980)">10</text>
<text transform="translate(553.16 794.71) scale(0.1730 0.1980)">20</text>
<text transform="translate(284.98 832.97) scale(0.1730 0.1980)">Time (s)</text>
<text transform="translate(37.35 680.18) rotate(-90) scale(0.1913 0.1773)">Amplitude</text>
<path d="M718.6 446.5L718.6 778.5" stroke="#2a2a2a" stroke-width="1.6"/>
<path d="M708.9 762.4L1190 762.4" stroke="#666" stroke-width="3"/>
<path d="M718.6 771.46h3.8M718.6 753.34h3.8M718.6 744.28h3.8M718.6 735.22h3.8M718.6 726.16h3.8M718.6 708.04h3.8M718.6 698.98h3.8M718.6 689.92h3.8M718.6 680.86h3.8M718.6 662.74h3.8M718.6 653.68h3.8M718.6 644.62h3.8M718.6 635.56h3.8M718.6 617.44h3.8M718.6 608.38h3.8M718.6 599.32h3.8M718.6 590.26h3.8M718.6 572.14h3.8M718.6 563.08h3.8M718.6 554.02h3.8M718.6 544.96h3.8M718.6 526.84h3.8M718.6 517.78h3.8M718.6 508.72h3.8M718.6 499.66h3.8M718.6 481.54h3.8M718.6 472.48h3.8M718.6 463.42h3.8M718.6 454.36h3.8" fill="none" stroke="#333" stroke-width="1.2"/>
<path d="M718.6 717.1h6.5M718.6 671.8h6.5M718.6 626.5h6.5M718.6 581.2h6.5M718.6 535.9h6.5M718.6 490.6h6.5" fill="none" stroke="#333" stroke-width="1.5"/>
<path d="M741.5 762.4v-4.5M764.6 762.4v-4.5M787.7 762.4v-4.5M810.8 762.4v-4.5M857 762.4v-4.5M880.1 762.4v-4.5M903.2 762.4v-4.5M926.3 762.4v-4.5M972.5 762.4v-4.5M995.6 762.4v-4.5M1018.7 762.4v-4.5M1041.8 762.4v-4.5M1088 762.4v-4.5M1111.1 762.4v-4.5M1134.2 762.4v-4.5M1157.3 762.4v-4.5" fill="none" stroke="#333" stroke-width="1.2"/>
<path d="M833.9 762.4v-7.5M949.4 762.4v-7.5M1064.9 762.4v-7.5M1180.4 762.4v-7.5" fill="none" stroke="#333" stroke-width="1.5"/>
<path d="M723.23 462L723.24 462.72L723.27 464.88L723.32 468.41L723.39 473.22L723.49 479.22L723.6 486.25L723.73 494.17L723.88 502.82L724.06 512.06L724.25 521.72L724.46 531.67L724.69 541.78L724.95 551.93L725.22 562.03L725.51 572L725.82 581.76L726.15 591.27L726.5 600.47L726.87 609.36L727.26 617.89L727.67 626.06L728.09 633.86L728.54 641.3L729 648.37L729.48 655.09L729.98 661.46L730.5 667.49L731.03 673.2L731.58 678.6L732.15 683.71L732.74 688.53L733.34 693.08L733.96 697.38L734.59 701.44L735.24 705.28L735.91 708.9L736.59 712.31L737.29 715.54L738 718.58L738.73 721.45L739.47 724.17L740.23 726.73L741 729.15L741.78 731.43L742.58 733.59L743.39 735.63L744.21 737.55L745.05 739.37L745.89 741.08L746.75 742.7L747.62 744.23L748.5 745.67L749.39 747.03L750.29 748.31L751.2 749.51L752.13 750.65L753.06 751.71L754 752.71L754.94 753.66L755.9 754.54L756.86 755.36L757.83 756.13L758.81 756.85L759.8 757.52L760.79 758.14L761.79 758.71L762.79 759.23L763.8 759.72L764.81 760.16L765.83 760.55L766.85 760.91L767.87 761.23L768.9 761.5L769.93 761.74L770.96 761.95L772 762.11L773.03 762.24L774.07 762.33L775.11 762.38L776.15 762.4L777.19 762.38L778.23 762.33L779.27 762.24L780.3 762.11L781.34 761.95L782.37 761.74L783.4 761.5L784.43 761.23L785.45 760.91L786.47 760.55L787.49 760.16L788.5 759.72L789.51 759.23L790.51 758.71L791.51 758.14L792.5 757.52L793.49 756.85L794.47 756.13L795.44 755.36L796.4 754.54L797.36 753.66L798.3 752.71L799.24 751.71L800.17 750.65L801.1 749.51L802.01 748.31L802.91 747.03L803.8 745.67L804.68 744.23L805.55 742.7L806.41 741.08L807.25 739.37L808.09 737.55L808.91 735.63L809.72 733.59L810.52 731.43L811.3 729.15L812.07 726.73L812.83 724.17L813.57 721.45L814.3 718.58L815.01 715.54L815.71 712.31L816.39 708.9L817.06 705.28L817.71 701.44L818.34 697.38L818.96 693.08L819.56 688.53L820.15 683.71L820.72 678.6L821.27 673.2L821.8 667.49L822.32 661.46L822.82 655.09L823.3 648.37L823.76 641.3L824.21 633.86L824.63 626.06L825.04 617.89L825.43 609.36L825.8 600.47L826.15 591.27L826.48 581.76L826.79 572L827.08 562.03L827.35 551.93L827.61 541.78L827.84 531.67L828.05 521.72L828.24 512.06L828.42 502.82L828.57 494.17L828.7 486.25L828.81 479.22L828.91 473.22L828.98 468.41L829.03 464.88L829.06 462.72L829.07 462M838.73 462L838.74 462.72L838.77 464.88L838.82 468.41L838.89 473.22L838.99 479.22L839.1 486.25L839.23 494.17L839.38 502.82L839.56 512.06L839.75 521.72L839.96 531.67L840.19 541.78L840.45 551.93L840.72 562.03L841.01 572L841.32 581.76L841.65 591.27L842 600.47L842.37 609.36L842.76 617.89L843.17 626.06L843.59 633.86L844.04 641.3L844.5 648.37L844.98 655.09L845.48 661.46L846 667.49L846.53 673.2L847.08 678.6L847.65 683.71L848.24 688.53L848.84 693.08L849.46 697.38L850.09 701.44L850.74 705.28L851.41 708.9L852.09 712.31L852.79 715.54L853.5 718.58L854.23 721.45L854.97 724.17L855.73 726.73L856.5 729.15L857.28 731.43L858.08 733.59L858.89 735.63L859.71 737.55L860.55 739.37L861.39 741.08L862.25 742.7L863.12 744.23L864 745.67L864.89 747.03L865.79 748.31L866.7 749.51L867.63 750.65L868.56 751.71L869.5 752.71L870.44 753.66L871.4 754.54L872.36 755.36L873.33 756.13L874.31 756.85L875.3 757.52L876.29 758.14L877.29 758.71L878.29 759.23L879.3 759.72L880.31 760.16L881.33 760.55L882.35 760.91L883.37 761.23L884.4 761.5L885.43 761.74L886.46 761.95L887.5 762.11L888.53 762.24L889.57 762.33L890.61 762.38L891.65 762.4L892.69 762.38L893.73 762.33L894.77 762.24L895.8 762.11L896.84 761.95L897.87 761.74L898.9 761.5L899.93 761.23L900.95 760.91L901.97 760.55L902.99 760.16L904 759.72L905.01 759.23L906.01 758.71L907.01 758.14L908 757.52L908.99 756.85L909.97 756.13L910.94 755.36L911.9 754.54L912.86 753.66L913.8 752.71L914.74 751.71L915.67 750.65L916.6 749.51L917.51 748.31L918.41 747.03L919.3 745.67L920.18 744.23L921.05 742.7L921.91 741.08L922.75 739.37L923.59 737.55L924.41 735.63L925.22 733.59L926.02 731.43L926.8 729.15L927.57 726.73L928.33 724.17L929.07 721.45L929.8 718.58L930.51 715.54L931.21 712.31L931.89 708.9L932.56 705.28L933.21 701.44L933.84 697.38L934.46 693.08L935.06 688.53L935.65 683.71L936.22 678.6L936.77 673.2L937.3 667.49L937.82 661.46L938.32 655.09L938.8 648.37L939.26 641.3L939.71 633.86L940.13 626.06L940.54 617.89L940.93 609.36L941.3 600.47L941.65 591.27L941.98 581.76L942.29 572L942.58 562.03L942.85 551.93L943.11 541.78L943.34 531.67L943.55 521.72L943.74 512.06L943.92 502.82L944.07 494.17L944.2 486.25L944.31 479.22L944.41 473.22L944.48 468.41L944.53 464.88L944.56 462.72L944.57 462M954.23 462L954.24 462.72L954.27 464.88L954.32 468.41L954.39 473.22L954.49 479.22L954.6 486.25L954.73 494.17L954.88 502.82L955.06 512.06L955.25 521.72L955.46 531.67L955.69 541.78L955.95 551.93L956.22 562.03L956.51 572L956.82 581.76L957.15 591.27L957.5 600.47L957.87 609.36L958.26 617.89L958.67 626.06L959.09 633.86L959.54 641.3L960 648.37L960.48 655.09L960.98 661.46L961.5 667.49L962.03 673.2L962.58 678.6L963.15 683.71L963.74 688.53L964.34 693.08L964.96 697.38L965.59 701.44L966.24 705.28L966.91 708.9L967.59 712.31L968.29 715.54L969 718.58L969.73 721.45L970.47 724.17L971.23 726.73L972 729.15L972.78 731.43L973.58 733.59L974.39 735.63L975.21 737.55L976.05 739.37L976.89 741.08L977.75 742.7L978.62 744.23L979.5 745.67L980.39 747.03L981.29 748.31L982.2 749.51L983.13 750.65L984.06 751.71L985 752.71L985.94 753.66L986.9 754.54L987.86 755.36L988.83 756.13L989.81 756.85L990.8 757.52L991.79 758.14L992.79 758.71L993.79 759.23L994.8 759.72L995.81 760.16L996.83 760.55L997.85 760.91L998.87 761.23L999.9 761.5L1000.93 761.74L1001.96 761.95L1003 762.11L1004.03 762.24L1005.07 762.33L1006.11 762.38L1007.15 762.4L1008.19 762.38L1009.23 762.33L1010.27 762.24L1011.3 762.11L1012.34 761.95L1013.37 761.74L1014.4 761.5L1015.43 761.23L1016.45 760.91L1017.47 760.55L1018.49 760.16L1019.5 759.72L1020.51 759.23L1021.51 758.71L1022.51 758.14L1023.5 757.52L1024.49 756.85L1025.47 756.13L1026.44 755.36L1027.4 754.54L1028.36 753.66L1029.3 752.71L1030.24 751.71L1031.17 750.65L1032.1 749.51L1033.01 748.31L1033.91 747.03L1034.8 745.67L1035.68 744.23L1036.55 742.7L1037.41 741.08L1038.25 739.37L1039.09 737.55L1039.91 735.63L1040.72 733.59L1041.52 731.43L1042.3 729.15L1043.07 726.73L1043.83 724.17L1044.57 721.45L1045.3 718.58L1046.01 715.54L1046.71 712.31L1047.39 708.9L1048.06 705.28L1048.71 701.44L1049.34 697.38L1049.96 693.08L1050.56 688.53L1051.15 683.71L1051.72 678.6L1052.27 673.2L1052.8 667.49L1053.32 661.46L1053.82 655.09L1054.3 648.37L1054.76 641.3L1055.21 633.86L1055.63 626.06L1056.04 617.89L1056.43 609.36L1056.8 600.47L1057.15 591.27L1057.48 581.76L1057.79 572L1058.08 562.03L1058.35 551.93L1058.61 541.78L1058.84 531.67L1059.05 521.72L1059.24 512.06L1059.42 502.82L1059.57 494.17L1059.7 486.25L1059.81 479.22L1059.91 473.22L1059.98 468.41L1060.03 464.88L1060.06 462.72L1060.07 462M1069.73 462L1069.74 462.72L1069.77 464.88L1069.82 468.41L1069.89 473.22L1069.99 479.22L1070.1 486.25L1070.23 494.17L1070.38 502.82L1070.56 512.06L1070.75 521.72L1070.96 531.67L1071.19 541.78L1071.45 551.93L1071.72 562.03L1072.01 572L1072.32 581.76L1072.65 591.27L1073 600.47L1073.37 609.36L1073.76 617.89L1074.17 626.06L1074.59 633.86L1075.04 641.3L1075.5 648.37L1075.98 655.09L1076.48 661.46L1077 667.49L1077.53 673.2L1078.08 678.6L1078.65 683.71L1079.24 688.53L1079.84 693.08L1080.46 697.38L1081.09 701.44L1081.74 705.28L1082.41 708.9L1083.09 712.31L1083.79 715.54L1084.5 718.58L1085.23 721.45L1085.97 724.17L1086.73 726.73L1087.5 729.15L1088.28 731.43L1089.08 733.59L1089.89 735.63L1090.71 737.55L1091.55 739.37L1092.39 741.08L1093.25 742.7L1094.12 744.23L1095 745.67L1095.89 747.03L1096.79 748.31L1097.7 749.51L1098.63 750.65L1099.56 751.71L1100.5 752.71L1101.44 753.66L1102.4 754.54L1103.36 755.36L1104.33 756.13L1105.31 756.85L1106.3 757.52L1107.29 758.14L1108.29 758.71L1109.29 759.23L1110.3 759.72L1111.31 760.16L1112.33 760.55L1113.35 760.91L1114.37 761.23L1115.4 761.5L1116.43 761.74L1117.46 761.95L1118.5 762.11L1119.53 762.24L1120.57 762.33L1121.61 762.38L1122.65 762.4L1123.69 762.38L1124.73 762.33L1125.77 762.24L1126.8 762.11L1127.84 761.95L1128.87 761.74L1129.9 761.5L1130.93 761.23L1131.95 760.91L1132.97 760.55L1133.99 760.16L1135 759.72L1136.01 759.23L1137.01 758.71L1138.01 758.14L1139 757.52L1139.99 756.85L1140.97 756.13L1141.94 755.36L1142.9 754.54L1143.86 753.66L1144.8 752.71L1145.74 751.71L1146.67 750.65L1147.6 749.51L1148.51 748.31L1149.41 747.03L1150.3 745.67L1151.18 744.23L1152.05 742.7L1152.91 741.08L1153.75 739.37L1154.59 737.55L1155.41 735.63L1156.22 733.59L1157.02 731.43L1157.8 729.15L1158.57 726.73L1159.33 724.17L1160.07 721.45L1160.8 718.58L1161.51 715.54L1162.21 712.31L1162.89 708.9L1163.56 705.28L1164.21 701.44L1164.84 697.38L1165.46 693.08L1166.06 688.53L1166.65 683.71L1167.22 678.6L1167.77 673.2L1168.3 667.49L1168.82 661.46L1169.32 655.09L1169.8 648.37L1170.26 641.3L1170.71 633.86L1171.13 626.06L1171.54 617.89L1171.93 609.36L1172.3 600.47L1172.65 591.27L1172.98 581.76L1173.29 572L1173.58 562.03L1173.85 551.93L1174.11 541.78L1174.34 531.67L1174.55 521.72L1174.74 512.06L1174.92 502.82L1175.07 494.17L1175.2 486.25L1175.31 479.22L1175.41 473.22L1175.48 468.41L1175.53 464.88L1175.56 462.72L1175.57 462" fill="none" stroke="#111" stroke-width="2.8" stroke-linejoin="round"/>
<text transform="translate(741.45 478.75) scale(0.1730 0.1980)">b2</text>
<text transform="translate(692.34 545.61) scale(0.1730 0.1980)">6</text>
<text transform="translate(692.5 681.9) scale(0.1730 0.1980)">3</text>
<text transform="translate(928.75 801.86) scale(0.1730 0.1980)">10</text>
<text transform="translate(1155.01 804.71) scale(0.1730 0.1980)">20</text>
<text transform="translate(884.98 842.47) scale(0.1730 0.1980)">Time (s)</text>
<path d="M1313.8 457.6L1313.8 789.7" stroke="#2a2a2a" stroke-width="1.6"/>
<path d="M1304.3 773.2L1785 773.2" stroke="#333" stroke-width="2.2"/>
<path d="M1313.8 782.18h3.8M1313.8 764.22h3.8M1313.8 755.24h3.8M1313.8 746.26h3.8M1313.8 737.28h3.8M1313.8 719.32h3.8M1313.8 710.34h3.8M1313.8 701.36h3.8M1313.8 692.38h3.8M1313.8 674.42h3.8M1313.8 665.44h3.8M1313.8 656.46h3.8M1313.8 647.48h3.8M1313.8 629.52h3.8M1313.8 620.54h3.8M1313.8 611.56h3.8M1313.8 602.58h3.8M1313.8 584.62h3.8M1313.8 575.64h3.8M1313.8 566.66h3.8M1313.8 557.68h3.8M1313.8 539.72h3.8M1313.8 530.74h3.8M1313.8 521.76h3.8M1313.8 512.78h3.8M1313.8 494.82h3.8M1313.8 485.84h3.8M1313.8 476.86h3.8M1313.8 467.88h3.8" fill="none" stroke="#333" stroke-width="1.2"/>
<path d="M1313.8 728.3h6.5M1313.8 683.4h6.5M1313.8 638.5h6.5M1313.8 593.6h6.5M1313.8 548.7h6.5M1313.8 503.8h6.5M1313.8 458.9h6.5" fill="none" stroke="#333" stroke-width="1.5"/>
<path d="M1336.9 773.2v-4.5M1360 773.2v-4.5M1383.1 773.2v-4.5M1406.2 773.2v-4.5M1452.4 773.2v-4.5M1475.5 773.2v-4.5M1498.6 773.2v-4.5M1521.7 773.2v-4.5M1567.9 773.2v-4.5M1591 773.2v-4.5M1614.1 773.2v-4.5M1637.2 773.2v-4.5M1683.4 773.2v-4.5M1706.5 773.2v-4.5M1729.6 773.2v-4.5M1752.7 773.2v-4.5" fill="none" stroke="#333" stroke-width="1.2"/>
<path d="M1429.3 773.2v-7.5M1544.8 773.2v-7.5M1660.3 773.2v-7.5M1775.8 773.2v-7.5" fill="none" stroke="#333" stroke-width="1.5"/>
<path d="M1323.39 473L1323.41 473.73L1323.48 475.9L1323.58 479.45L1323.72 484.29L1323.9 490.32L1324.13 497.38L1324.39 505.34L1324.7 514.04L1325.04 523.31L1325.43 533.01L1325.85 542.99L1326.32 553.13L1326.83 563.3L1327.37 573.42L1327.95 583.4L1328.58 593.17L1329.24 602.68L1329.94 611.89L1330.68 620.77L1331.46 629.3L1332.27 637.46L1333.12 645.25L1334.01 652.68L1334.94 659.73L1335.9 666.43L1336.9 672.78L1337.93 678.8L1339 684.49L1340.1 689.87L1341.24 694.95L1342.41 699.76L1343.62 704.29L1344.86 708.57L1346.13 712.62L1347.43 716.43L1348.77 720.03L1350.13 723.43L1351.53 726.64L1352.96 729.67L1354.41 732.52L1355.9 735.22L1357.41 737.77L1358.95 740.17L1360.52 742.45L1362.11 744.59L1363.73 746.61L1365.38 748.53L1367.05 750.33L1368.74 752.03L1370.46 753.64L1372.2 755.16L1373.96 756.59L1375.75 757.94L1377.55 759.21L1379.38 760.4L1381.22 761.53L1383.08 762.59L1384.96 763.59L1386.86 764.52L1388.77 765.39L1390.7 766.21L1392.64 766.98L1394.6 767.69L1396.57 768.35L1398.56 768.97L1400.55 769.54L1402.56 770.06L1404.58 770.54L1406.6 770.97L1408.64 771.37L1410.68 771.72L1412.73 772.04L1414.79 772.31L1416.85 772.55L1418.92 772.75L1420.99 772.91L1423.07 773.04L1425.14 773.13L1427.22 773.18L1429.3 773.2L1431.38 773.18L1433.46 773.13L1435.53 773.04L1437.61 772.91L1439.68 772.75L1441.75 772.55L1443.81 772.31L1445.87 772.04L1447.92 771.72L1449.96 771.37L1452 770.97L1454.02 770.54L1456.04 770.06L1458.05 769.54L1460.04 768.97L1462.03 768.35L1464 767.69L1465.96 766.98L1467.9 766.21L1469.83 765.39L1471.74 764.52L1473.64 763.59L1475.52 762.59L1477.38 761.53L1479.22 760.4L1481.05 759.21L1482.85 757.94L1484.64 756.59L1486.4 755.16L1488.14 753.64L1489.86 752.03L1491.55 750.33L1493.22 748.53L1494.87 746.61L1496.49 744.59L1498.08 742.45L1499.65 740.17L1501.19 737.77L1502.7 735.22L1504.19 732.52L1505.64 729.67L1507.07 726.64L1508.47 723.43L1509.83 720.03L1511.17 716.43L1512.47 712.62L1513.74 708.57L1514.98 704.29L1516.19 699.76L1517.36 694.95L1518.5 689.87L1519.6 684.49L1520.67 678.8L1521.7 672.78L1522.7 666.43L1523.66 659.73L1524.59 652.68L1525.48 645.25L1526.33 637.46L1527.14 629.3L1527.92 620.77L1528.66 611.89L1529.36 602.68L1530.02 593.17L1530.65 583.4L1531.23 573.42L1531.77 563.3L1532.28 553.13L1532.75 542.99L1533.17 533.01L1533.56 523.31L1533.9 514.04L1534.21 505.34L1534.47 497.38L1534.7 490.32L1534.88 484.29L1535.02 479.45L1535.12 475.9L1535.19 473.73L1535.21 473M1554.39 473L1554.41 473.73L1554.48 475.9L1554.58 479.45L1554.72 484.29L1554.9 490.32L1555.13 497.38L1555.39 505.34L1555.7 514.04L1556.04 523.31L1556.43 533.01L1556.85 542.99L1557.32 553.13L1557.83 563.3L1558.37 573.42L1558.95 583.4L1559.58 593.17L1560.24 602.68L1560.94 611.89L1561.68 620.77L1562.46 629.3L1563.27 637.46L1564.12 645.25L1565.01 652.68L1565.94 659.73L1566.9 666.43L1567.9 672.78L1568.93 678.8L1570 684.49L1571.1 689.87L1572.24 694.95L1573.41 699.76L1574.62 704.29L1575.86 708.57L1577.13 712.62L1578.43 716.43L1579.77 720.03L1581.13 723.43L1582.53 726.64L1583.96 729.67L1585.41 732.52L1586.9 735.22L1588.41 737.77L1589.95 740.17L1591.52 742.45L1593.11 744.59L1594.73 746.61L1596.38 748.53L1598.05 750.33L1599.74 752.03L1601.46 753.64L1603.2 755.16L1604.96 756.59L1606.75 757.94L1608.55 759.21L1610.38 760.4L1612.22 761.53L1614.08 762.59L1615.96 763.59L1617.86 764.52L1619.77 765.39L1621.7 766.21L1623.64 766.98L1625.6 767.69L1627.57 768.35L1629.56 768.97L1631.55 769.54L1633.56 770.06L1635.58 770.54L1637.6 770.97L1639.64 771.37L1641.68 771.72L1643.73 772.04L1645.79 772.31L1647.85 772.55L1649.92 772.75L1651.99 772.91L1654.07 773.04L1656.14 773.13L1658.22 773.18L1660.3 773.2L1662.38 773.18L1664.46 773.13L1666.53 773.04L1668.61 772.91L1670.68 772.75L1672.75 772.55L1674.81 772.31L1676.87 772.04L1678.92 771.72L1680.96 771.37L1683 770.97L1685.02 770.54L1687.04 770.06L1689.05 769.54L1691.04 768.97L1693.03 768.35L1695 767.69L1696.96 766.98L1698.9 766.21L1700.83 765.39L1702.74 764.52L1704.64 763.59L1706.52 762.59L1708.38 761.53L1710.22 760.4L1712.05 759.21L1713.85 757.94L1715.64 756.59L1717.4 755.16L1719.14 753.64L1720.86 752.03L1722.55 750.33L1724.22 748.53L1725.87 746.61L1727.49 744.59L1729.08 742.45L1730.65 740.17L1732.19 737.77L1733.7 735.22L1735.19 732.52L1736.64 729.67L1738.07 726.64L1739.47 723.43L1740.83 720.03L1742.17 716.43L1743.47 712.62L1744.74 708.57L1745.98 704.29L1747.19 699.76L1748.36 694.95L1749.5 689.87L1750.6 684.49L1751.67 678.8L1752.7 672.78L1753.7 666.43L1754.66 659.73L1755.59 652.68L1756.48 645.25L1757.33 637.46L1758.14 629.3L1758.92 620.77L1759.66 611.89L1760.36 602.68L1761.02 593.17L1761.65 583.4L1762.23 573.42L1762.77 563.3L1763.28 553.13L1763.75 542.99L1764.17 533.01L1764.56 523.31L1764.9 514.04L1765.21 505.34L1765.47 497.38L1765.7 490.32L1765.88 484.29L1766.02 479.45L1766.12 475.9L1766.19 473.73L1766.21 473" fill="none" stroke="#111" stroke-width="2.8" stroke-linejoin="round"/>
<text transform="translate(1348.63 484.25) scale(0.1730 0.1980)">c2</text>
<text transform="translate(1280.89 562.75) scale(0.1730 0.1980)">6</text>
<text transform="translate(1280.8 697.31) scale(0.1730 0.1980)">3</text>
<text transform="translate(1520 811.61) scale(0.1730 0.1980)">10</text>
<text transform="translate(1753.71 814.36) scale(0.1730 0.1980)">20</text>
<text transform="translate(1484.73 854.47) scale(0.1730 0.1980)">Time (s)</text>
<path d="M110.3 891.5L110.3 1211.5" stroke="#222" stroke-width="1.4"/>
<path d="M100.3 1052L564.7 1052" stroke="#333" stroke-width="1.4"/>
<path d="M110.3 901h5.5M110.3 1203h5.5" fill="none" stroke="#333" stroke-width="1.3"/>
<text transform="translate(536.01 1086.15) scale(0.1730 0.1980)">20</text>
<path d="M110.5 961H555.7V1142.5H110.5ZM111.05 908.5L113.85 908.5L114.3 962L110.6 962ZM110.6 1141.5L114.3 1141.5L113.9 1193L111 1193ZM116.61 908.5L119.41 908.5L119.86 962L116.16 962ZM116.16 1141.5L119.86 1141.5L119.46 1194L116.56 1194ZM122.18 908.5L124.98 908.5L125.43 962L121.73 962ZM121.73 1141.5L125.43 1141.5L125.03 1195L122.13 1195ZM127.74 909.5L130.54 909.5L130.99 962L127.29 962ZM127.29 1141.5L130.99 1141.5L130.59 1195.5L127.69 1195.5ZM133.31 908.5L136.11 908.5L136.56 962L132.86 962ZM132.86 1141.5L136.56 1141.5L136.16 1194.5L133.26 1194.5ZM138.87 908.5L141.67 908.5L142.12 962L138.42 962ZM138.42 1141.5L142.12 1141.5L141.72 1195L138.82 1195ZM144.44 909L147.24 909L147.69 962L143.99 962ZM143.99 1141.5L147.69 1141.5L147.29 1195L144.39 1195ZM150 908.5L152.8 908.5L153.25 962L149.55 962ZM149.55 1141.5L153.25 1141.5L152.85 1194.5L149.95 1194.5ZM155.57 909L158.37 909L158.82 962L155.12 962ZM155.12 1141.5L158.82 1141.5L158.42 1195L155.52 1195ZM161.13 909.5L163.93 909.5L164.38 962L160.68 962ZM160.68 1141.5L164.38 1141.5L163.98 1195L161.08 1195ZM166.7 908.5L169.5 908.5L169.95 962L166.25 962ZM166.25 1141.5L169.95 1141.5L169.55 1195.5L166.65 1195.5ZM172.26 909L175.06 909L175.51 962L171.81 962ZM171.81 1141.5L175.51 1141.5L175.11 1195.5L172.21 1195.5ZM177.83 908.5L180.63 908.5L181.08 962L177.38 962ZM177.38 1141.5L181.08 1141.5L180.68 1193L177.78 1193ZM183.39 908.5L186.19 908.5L186.64 962L182.94 962ZM182.94 1141.5L186.64 1141.5L186.24 1194L183.34 1194ZM188.96 909L191.76 909L192.21 962L188.51 962ZM188.51 1141.5L192.21 1141.5L191.81 1195L188.91 1195ZM194.52 908.5L197.32 908.5L197.77 962L194.07 962ZM194.07 1141.5L197.77 1141.5L197.37 1193L194.47 1193ZM200.09 908.5L202.89 908.5L203.34 962L199.64 962ZM199.64 1141.5L203.34 1141.5L202.94 1193L200.04 1193ZM205.65 909L208.45 909L208.9 962L205.2 962ZM205.2 1141.5L208.9 1141.5L208.5 1195.5L205.6 1195.5ZM211.22 909.5L214.02 909.5L214.47 962L210.77 962ZM210.77 1141.5L214.47 1141.5L214.07 1195.5L211.17 1195.5ZM216.78 909L219.58 909L220.03 962L216.33 962ZM216.33 1141.5L220.03 1141.5L219.63 1193L216.73 1193ZM222.35 908.5L225.15 908.5L225.6 962L221.9 962ZM221.9 1141.5L225.6 1141.5L225.2 1194L222.3 1194ZM227.91 911L230.71 911L231.16 962L227.46 962ZM227.46 1141.5L231.16 1141.5L230.76 1195.5L227.86 1195.5ZM233.48 908.5L236.28 908.5L236.73 962L233.03 962ZM233.03 1141.5L236.73 1141.5L236.33 1194.5L233.43 1194.5ZM239.04 909L241.84 909L242.29 962L238.59 962ZM238.59 1141.5L242.29 1141.5L241.89 1193L238.99 1193ZM244.61 908.5L247.41 908.5L247.86 962L244.16 962ZM244.16 1141.5L247.86 1141.5L247.46 1195.5L244.56 1195.5ZM250.17 908.5L252.97 908.5L253.42 962L249.72 962ZM249.72 1141.5L253.42 1141.5L253.02 1195L250.12 1195ZM255.74 909L258.54 909L258.99 962L255.29 962ZM255.29 1141.5L258.99 1141.5L258.59 1195L255.69 1195ZM261.3 908.5L264.1 908.5L264.55 962L260.85 962ZM260.85 1141.5L264.55 1141.5L264.15 1195.5L261.25 1195.5ZM266.87 908.5L269.67 908.5L270.12 962L266.42 962ZM266.42 1141.5L270.12 1141.5L269.72 1194L266.82 1194ZM272.43 908.5L275.23 908.5L275.68 962L271.98 962ZM271.98 1141.5L275.68 1141.5L275.28 1194L272.38 1194ZM278 909L280.8 909L281.25 962L277.55 962ZM277.55 1141.5L281.25 1141.5L280.85 1195.5L277.95 1195.5ZM283.56 909L286.36 909L286.81 962L283.11 962ZM283.11 1141.5L286.81 1141.5L286.41 1195.5L283.51 1195.5ZM289.13 909L291.93 909L292.38 962L288.68 962ZM288.68 1141.5L292.38 1141.5L291.98 1195L289.08 1195ZM294.69 909L297.49 909L297.94 962L294.24 962ZM294.24 1141.5L297.94 1141.5L297.54 1193L294.64 1193ZM300.26 908.5L303.06 908.5L303.51 962L299.81 962ZM299.81 1141.5L303.51 1141.5L303.11 1195L300.21 1195ZM305.82 909L308.62 909L309.07 962L305.37 962ZM305.37 1141.5L309.07 1141.5L308.67 1194L305.77 1194ZM311.39 909L314.19 909L314.64 962L310.94 962ZM310.94 1141.5L314.64 1141.5L314.24 1195.5L311.34 1195.5ZM316.95 911L319.75 911L320.2 962L316.5 962ZM316.5 1141.5L320.2 1141.5L319.8 1195.5L316.9 1195.5ZM322.52 908.5L325.32 908.5L325.77 962L322.07 962ZM322.07 1141.5L325.77 1141.5L325.37 1195.5L322.47 1195.5ZM328.08 908.5L330.88 908.5L331.33 962L327.63 962ZM327.63 1141.5L331.33 1141.5L330.93 1194L328.03 1194ZM333.65 908.5L336.45 908.5L336.9 962L333.2 962ZM333.2 1141.5L336.9 1141.5L336.5 1193L333.6 1193ZM339.21 908.5L342.01 908.5L342.46 962L338.76 962ZM338.76 1141.5L342.46 1141.5L342.06 1194L339.16 1194ZM344.78 908.5L347.58 908.5L348.03 962L344.33 962ZM344.33 1141.5L348.03 1141.5L347.63 1194L344.73 1194ZM350.34 911L353.14 911L353.59 962L349.89 962ZM349.89 1141.5L353.59 1141.5L353.19 1193L350.29 1193ZM355.91 908.5L358.71 908.5L359.16 962L355.46 962ZM355.46 1141.5L359.16 1141.5L358.76 1193L355.86 1193ZM361.47 909L364.27 909L364.72 962L361.02 962ZM361.02 1141.5L364.72 1141.5L364.32 1193L361.42 1193ZM367.04 909L369.84 909L370.29 962L366.59 962ZM366.59 1141.5L370.29 1141.5L369.89 1194.5L366.99 1194.5ZM372.6 909L375.4 909L375.85 962L372.15 962ZM372.15 1141.5L375.85 1141.5L375.45 1195.5L372.55 1195.5ZM378.17 908.5L380.97 908.5L381.42 962L377.72 962ZM377.72 1141.5L381.42 1141.5L381.02 1195L378.12 1195ZM383.73 908.5L386.53 908.5L386.98 962L383.28 962ZM383.28 1141.5L386.98 1141.5L386.58 1195.5L383.68 1195.5ZM389.3 908.5L392.1 908.5L392.55 962L388.85 962ZM388.85 1141.5L392.55 1141.5L392.15 1195.5L389.25 1195.5ZM394.86 909L397.66 909L398.11 962L394.41 962ZM394.41 1141.5L398.11 1141.5L397.71 1194.5L394.81 1194.5ZM400.43 908.5L403.23 908.5L403.68 962L399.98 962ZM399.98 1141.5L403.68 1141.5L403.28 1194L400.38 1194ZM405.99 909L408.79 909L409.24 962L405.54 962ZM405.54 1141.5L409.24 1141.5L408.84 1195.5L405.94 1195.5ZM411.56 909.5L414.36 909.5L414.81 962L411.11 962ZM411.11 1141.5L414.81 1141.5L414.41 1195.5L411.51 1195.5ZM417.12 908.5L419.92 908.5L420.37 962L416.67 962ZM416.67 1141.5L420.37 1141.5L419.97 1194.5L417.07 1194.5ZM422.69 908.5L425.49 908.5L425.94 962L422.24 962ZM422.24 1141.5L425.94 1141.5L425.54 1193L422.64 1193ZM428.25 908.5L431.05 908.5L431.5 962L427.8 962ZM427.8 1141.5L431.5 1141.5L431.1 1195.5L428.2 1195.5ZM433.82 908.5L436.62 908.5L437.07 962L433.37 962ZM433.37 1141.5L437.07 1141.5L436.67 1195.5L433.77 1195.5ZM439.38 911L442.18 911L442.63 962L438.93 962ZM438.93 1141.5L442.63 1141.5L442.23 1195.5L439.33 1195.5ZM444.95 908.5L447.75 908.5L448.2 962L444.5 962ZM444.5 1141.5L448.2 1141.5L447.8 1195.5L444.9 1195.5ZM450.51 911L453.31 911L453.76 962L450.06 962ZM450.06 1141.5L453.76 1141.5L453.36 1194L450.46 1194ZM456.08 909L458.88 909L459.33 962L455.63 962ZM455.63 1141.5L459.33 1141.5L458.93 1194.5L456.03 1194.5ZM461.64 911L464.44 911L464.89 962L461.19 962ZM461.19 1141.5L464.89 1141.5L464.49 1195.5L461.59 1195.5ZM467.21 909L470.01 909L470.46 962L466.76 962ZM466.76 1141.5L470.46 1141.5L470.06 1193L467.16 1193ZM472.77 908.5L475.57 908.5L476.02 962L472.32 962ZM472.32 1141.5L476.02 1141.5L475.62 1195.5L472.72 1195.5ZM478.34 908.5L481.14 908.5L481.59 962L477.89 962ZM477.89 1141.5L481.59 1141.5L481.19 1194L478.29 1194ZM483.9 909L486.7 909L487.15 962L483.45 962ZM483.45 1141.5L487.15 1141.5L486.75 1195.5L483.85 1195.5ZM489.47 908.5L492.27 908.5L492.72 962L489.02 962ZM489.02 1141.5L492.72 1141.5L492.32 1195.5L489.42 1195.5ZM495.03 908.5L497.83 908.5L498.28 962L494.58 962ZM494.58 1141.5L498.28 1141.5L497.88 1194L494.98 1194ZM500.6 908.5L503.4 908.5L503.85 962L500.15 962ZM500.15 1141.5L503.85 1141.5L503.45 1195.5L500.55 1195.5ZM506.16 909.5L508.96 909.5L509.41 962L505.71 962ZM505.71 1141.5L509.41 1141.5L509.01 1195.5L506.11 1195.5ZM511.73 908.5L514.53 908.5L514.98 962L511.28 962ZM511.28 1141.5L514.98 1141.5L514.58 1195.5L511.68 1195.5ZM517.29 909.5L520.09 909.5L520.54 962L516.84 962ZM516.84 1141.5L520.54 1141.5L520.14 1194L517.24 1194ZM522.86 908.5L525.66 908.5L526.11 962L522.41 962ZM522.41 1141.5L526.11 1141.5L525.71 1195L522.81 1195ZM528.42 909L531.22 909L531.67 962L527.97 962ZM527.97 1141.5L531.67 1141.5L531.27 1194L528.37 1194ZM533.99 908.5L536.79 908.5L537.24 962L533.54 962ZM533.54 1141.5L537.24 1141.5L536.84 1195.5L533.94 1195.5ZM539.55 911L542.35 911L542.8 962L539.1 962ZM539.1 1141.5L542.8 1141.5L542.4 1195.5L539.5 1195.5ZM545.12 911L547.92 911L548.37 962L544.67 962ZM544.67 1141.5L548.37 1141.5L547.97 1193L545.07 1193ZM550.68 909L553.48 909L553.93 962L550.23 962ZM550.23 1141.5L553.93 1141.5L553.53 1195.5L550.63 1195.5Z" fill="#111"/>
<path d="M115.23 961v38.63M115.23 1142.5v-43.93M120.8 961v37.93M120.8 1142.5v-18.97M126.36 961v14.08M126.36 1142.5v-26.89M131.93 961v29.58M131.93 1142.5v-30.66M137.49 961v24.69M137.49 1142.5v-16.55M143.06 961v37.43M143.06 1142.5v-12.59M148.62 961v14.76M148.62 1142.5v-45M154.19 961v37.85M154.19 1142.5v-44.56M159.75 961v20.41M159.75 1142.5v-44.61M165.32 961v43.88M165.32 1142.5v-34.86M170.88 961v10.78M170.88 1142.5v-24.94M176.45 961v12.35M176.45 1142.5v-20.85M182.01 961v12.38M182.01 1142.5v-22.79M187.58 961v35.07M187.58 1142.5v-16.65M193.14 961v12.05M193.14 1142.5v-45.1M198.71 961v40.42M198.71 1142.5v-10.65M204.27 961v23.55M204.27 1142.5v-40.28M209.84 961v35.48M209.84 1142.5v-32.45M215.4 961v37.21M215.4 1142.5v-43.47M220.97 961v28.45M220.97 1142.5v-42.14M226.53 961v13.89M226.53 1142.5v-36.94M232.1 961v11.32M232.1 1142.5v-44.05M237.66 961v22.27M237.66 1142.5v-31.99M243.23 961v19.92M243.23 1142.5v-35.29M248.79 961v34.69M248.79 1142.5v-21.02M254.36 961v35.96M254.36 1142.5v-21.13M259.92 961v35.92M259.92 1142.5v-12.91M265.49 961v18.54M265.49 1142.5v-31.38M271.05 961v33.43M271.05 1142.5v-15.24M276.62 961v22.03M276.62 1142.5v-17.45M282.18 961v13.84M282.18 1142.5v-25.64M287.75 961v40.41M287.75 1142.5v-20.61M293.31 961v45.14M293.31 1142.5v-26.33M298.88 961v27.25M298.88 1142.5v-20.48M304.44 961v14.05M304.44 1142.5v-39.59M310.01 961v41.24M310.01 1142.5v-16.48M315.57 961v28.55M315.57 1142.5v-29.73M321.14 961v38.3M321.14 1142.5v-37.9M326.7 961v23.08M326.7 1142.5v-35.36M332.27 961v19.53M332.27 1142.5v-45.31M337.83 961v33.39M337.83 1142.5v-30.9M343.4 961v29.69M343.4 1142.5v-19.02M348.96 961v20.4M348.96 1142.5v-28.01M354.53 961v19.86M354.53 1142.5v-22.44M360.09 961v43.2M360.09 1142.5v-16.21M365.66 961v44.43M365.66 1142.5v-28.65M371.22 961v40.12M371.22 1142.5v-43.75M376.79 961v34.89M376.79 1142.5v-35.91M382.35 961v32.2M382.35 1142.5v-43.7M387.92 961v32.45M387.92 1142.5v-37.89M393.48 961v17.04M393.48 1142.5v-31.11M399.05 961v37.32M399.05 1142.5v-16.5M404.61 961v45.27M404.61 1142.5v-15.97M410.18 961v21.42M410.18 1142.5v-16.54M415.74 961v24.96M415.74 1142.5v-22.64M421.31 961v18.56M421.31 1142.5v-42.51M426.87 961v24.59M426.87 1142.5v-20.03M432.44 961v34.8M432.44 1142.5v-29.7M438 961v13.41M438 1142.5v-29.63M443.57 961v44.5M443.57 1142.5v-39.47M449.13 961v39.27M449.13 1142.5v-33.12M454.7 961v15.12M454.7 1142.5v-31.45M460.26 961v44.85M460.26 1142.5v-31.91M465.83 961v23.75M465.83 1142.5v-21.74M471.39 961v32.66M471.39 1142.5v-42.09M476.96 961v25.54M476.96 1142.5v-18.15M482.52 961v45.01M482.52 1142.5v-23.67M488.09 961v36.68M488.09 1142.5v-20.83M493.65 961v10.71M493.65 1142.5v-44.03M499.22 961v43.46M499.22 1142.5v-15.16M504.78 961v33.76M504.78 1142.5v-44.59M510.35 961v11.44M510.35 1142.5v-14.91M515.91 961v27.29M515.91 1142.5v-30.17M521.48 961v38.15M521.48 1142.5v-18.84M527.04 961v35.97M527.04 1142.5v-20.29M532.61 961v28.66M532.61 1142.5v-41.09M538.17 961v37.37M538.17 1142.5v-20.82M543.74 961v36.33M543.74 1142.5v-10.96M549.3 961v34.54M549.3 1142.5v-39.25" fill="none" stroke="#444" stroke-width="0.8"/>
<text transform="translate(134.97 897.36) scale(0.1730 0.1980)">a3</text>
<text transform="translate(82.67 916.2) scale(0.1730 0.1980)">1</text>
<text transform="translate(73.48 1212.45) scale(0.1730 0.1980)">-1</text>
<text transform="translate(39.36 1136.38) rotate(-90) scale(0.1899 0.1820)">Amplitude</text>
<path d="M719.7 884L719.7 1204" stroke="#222" stroke-width="1.4"/>
<path d="M710 1044.7L1174 1044.7" stroke="#333" stroke-width="1.4"/>
<path d="M719.7 893.3h5.5M719.7 1196h5.5" fill="none" stroke="#333" stroke-width="1.3"/>
<text transform="translate(1141.61 1078.86) scale(0.1730 0.1980)">20</text>
<path d="M719.5 953H1164.7V1135.5H719.5ZM720.05 901L722.85 901L723.3 954L719.6 954ZM719.6 1134.5L723.3 1134.5L722.9 1186.5L720 1186.5ZM725.61 901.5L728.41 901.5L728.86 954L725.16 954ZM725.16 1134.5L728.86 1134.5L728.46 1186.5L725.56 1186.5ZM731.18 903.5L733.98 903.5L734.43 954L730.73 954ZM730.73 1134.5L734.43 1134.5L734.03 1188L731.13 1188ZM736.74 901L739.54 901L739.99 954L736.29 954ZM736.29 1134.5L739.99 1134.5L739.59 1188L736.69 1188ZM742.31 901L745.11 901L745.56 954L741.86 954ZM741.86 1134.5L745.56 1134.5L745.16 1188L742.26 1188ZM747.87 901L750.67 901L751.12 954L747.42 954ZM747.42 1134.5L751.12 1134.5L750.72 1185.5L747.82 1185.5ZM753.44 901.5L756.24 901.5L756.69 954L752.99 954ZM752.99 1134.5L756.69 1134.5L756.29 1188L753.39 1188ZM759 901L761.8 901L762.25 954L758.55 954ZM758.55 1134.5L762.25 1134.5L761.85 1188L758.95 1188ZM764.57 902L767.37 902L767.82 954L764.12 954ZM764.12 1134.5L767.82 1134.5L767.42 1185.5L764.52 1185.5ZM770.13 902L772.93 902L773.38 954L769.68 954ZM769.68 1134.5L773.38 1134.5L772.98 1188L770.08 1188ZM775.7 901L778.5 901L778.95 954L775.25 954ZM775.25 1134.5L778.95 1134.5L778.55 1188L775.65 1188ZM781.26 902L784.06 902L784.51 954L780.81 954ZM780.81 1134.5L784.51 1134.5L784.11 1188L781.21 1188ZM786.83 902L789.63 902L790.08 954L786.38 954ZM786.38 1134.5L790.08 1134.5L789.68 1188L786.78 1188ZM792.39 902L795.19 902L795.64 954L791.94 954ZM791.94 1134.5L795.64 1134.5L795.24 1188L792.34 1188ZM797.96 903.5L800.76 903.5L801.21 954L797.51 954ZM797.51 1134.5L801.21 1134.5L800.81 1188L797.91 1188ZM803.52 901L806.32 901L806.77 954L803.07 954ZM803.07 1134.5L806.77 1134.5L806.37 1187.5L803.47 1187.5ZM809.09 901.5L811.89 901.5L812.34 954L808.64 954ZM808.64 1134.5L812.34 1134.5L811.94 1188L809.04 1188ZM814.65 901L817.45 901L817.9 954L814.2 954ZM814.2 1134.5L817.9 1134.5L817.5 1186.5L814.6 1186.5ZM820.22 901.5L823.02 901.5L823.47 954L819.77 954ZM819.77 1134.5L823.47 1134.5L823.07 1186.5L820.17 1186.5ZM825.78 901L828.58 901L829.03 954L825.33 954ZM825.33 1134.5L829.03 1134.5L828.63 1188L825.73 1188ZM831.35 901L834.15 901L834.6 954L830.9 954ZM830.9 1134.5L834.6 1134.5L834.2 1188L831.3 1188ZM836.91 901.5L839.71 901.5L840.16 954L836.46 954ZM836.46 1134.5L840.16 1134.5L839.76 1186.5L836.86 1186.5ZM842.48 901L845.28 901L845.73 954L842.03 954ZM842.03 1134.5L845.73 1134.5L845.33 1188L842.43 1188ZM848.04 903.5L850.84 903.5L851.29 954L847.59 954ZM847.59 1134.5L851.29 1134.5L850.89 1187L847.99 1187ZM853.61 901L856.41 901L856.86 954L853.16 954ZM853.16 1134.5L856.86 1134.5L856.46 1188L853.56 1188ZM859.17 901.5L861.97 901.5L862.42 954L858.72 954ZM858.72 1134.5L862.42 1134.5L862.02 1188L859.12 1188ZM864.74 901.5L867.54 901.5L867.99 954L864.29 954ZM864.29 1134.5L867.99 1134.5L867.59 1187.5L864.69 1187.5ZM870.3 901.5L873.1 901.5L873.55 954L869.85 954ZM869.85 1134.5L873.55 1134.5L873.15 1185.5L870.25 1185.5ZM875.87 901L878.67 901L879.12 954L875.42 954ZM875.42 1134.5L879.12 1134.5L878.72 1188L875.82 1188ZM881.43 901.5L884.23 901.5L884.68 954L880.98 954ZM880.98 1134.5L884.68 1134.5L884.28 1187.5L881.38 1187.5ZM887 901L889.8 901L890.25 954L886.55 954ZM886.55 1134.5L890.25 1134.5L889.85 1186.5L886.95 1186.5ZM892.56 901L895.36 901L895.81 954L892.11 954ZM892.11 1134.5L895.81 1134.5L895.41 1185.5L892.51 1185.5ZM898.13 901L900.93 901L901.38 954L897.68 954ZM897.68 1134.5L901.38 1134.5L900.98 1187L898.08 1187ZM903.69 901L906.49 901L906.94 954L903.24 954ZM903.24 1134.5L906.94 1134.5L906.54 1188L903.64 1188ZM909.26 901.5L912.06 901.5L912.51 954L908.81 954ZM908.81 1134.5L912.51 1134.5L912.11 1188L909.21 1188ZM914.82 903.5L917.62 903.5L918.07 954L914.37 954ZM914.37 1134.5L918.07 1134.5L917.67 1187.5L914.77 1187.5ZM920.39 903.5L923.19 903.5L923.64 954L919.94 954ZM919.94 1134.5L923.64 1134.5L923.24 1187.5L920.34 1187.5ZM925.95 901L928.75 901L929.2 954L925.5 954ZM925.5 1134.5L929.2 1134.5L928.8 1188L925.9 1188ZM931.52 901L934.32 901L934.77 954L931.07 954ZM931.07 1134.5L934.77 1134.5L934.37 1188L931.47 1188ZM937.08 901L939.88 901L940.33 954L936.63 954ZM936.63 1134.5L940.33 1134.5L939.93 1187.5L937.03 1187.5ZM942.65 901.5L945.45 901.5L945.9 954L942.2 954ZM942.2 1134.5L945.9 1134.5L945.5 1186.5L942.6 1186.5ZM948.21 901.5L951.01 901.5L951.46 954L947.76 954ZM947.76 1134.5L951.46 1134.5L951.06 1187L948.16 1187ZM953.78 901.5L956.58 901.5L957.03 954L953.33 954ZM953.33 1134.5L957.03 1134.5L956.63 1186.5L953.73 1186.5ZM959.34 901L962.14 901L962.59 954L958.89 954ZM958.89 1134.5L962.59 1134.5L962.19 1188L959.29 1188ZM964.91 901L967.71 901L968.16 954L964.46 954ZM964.46 1134.5L968.16 1134.5L967.76 1188L964.86 1188ZM970.47 901L973.27 901L973.72 954L970.02 954ZM970.02 1134.5L973.72 1134.5L973.32 1186.5L970.42 1186.5ZM976.04 901L978.84 901L979.29 954L975.59 954ZM975.59 1134.5L979.29 1134.5L978.89 1188L975.99 1188ZM981.6 902L984.4 902L984.85 954L981.15 954ZM981.15 1134.5L984.85 1134.5L984.45 1188L981.55 1188ZM987.17 901L989.97 901L990.42 954L986.72 954ZM986.72 1134.5L990.42 1134.5L990.02 1188L987.12 1188ZM992.73 902L995.53 902L995.98 954L992.28 954ZM992.28 1134.5L995.98 1134.5L995.58 1188L992.68 1188ZM998.3 901L1001.1 901L1001.55 954L997.85 954ZM997.85 1134.5L1001.55 1134.5L1001.15 1188L998.25 1188ZM1003.86 901.5L1006.66 901.5L1007.11 954L1003.41 954ZM1003.41 1134.5L1007.11 1134.5L1006.71 1188L1003.81 1188ZM1009.43 901L1012.23 901L1012.68 954L1008.98 954ZM1008.98 1134.5L1012.68 1134.5L1012.28 1187.5L1009.38 1187.5ZM1014.99 901L1017.79 901L1018.24 954L1014.54 954ZM1014.54 1134.5L1018.24 1134.5L1017.84 1187.5L1014.94 1187.5ZM1020.56 902L1023.36 902L1023.81 954L1020.11 954ZM1020.11 1134.5L1023.81 1134.5L1023.41 1187L1020.51 1187ZM1026.12 901.5L1028.92 901.5L1029.37 954L1025.67 954ZM1025.67 1134.5L1029.37 1134.5L1028.97 1188L1026.07 1188ZM1031.69 902L1034.49 902L1034.94 954L1031.24 954ZM1031.24 1134.5L1034.94 1134.5L1034.54 1188L1031.64 1188ZM1037.25 902L1040.05 902L1040.5 954L1036.8 954ZM1036.8 1134.5L1040.5 1134.5L1040.1 1185.5L1037.2 1185.5ZM1042.82 901L1045.62 901L1046.07 954L1042.37 954ZM1042.37 1134.5L1046.07 1134.5L1045.67 1188L1042.77 1188ZM1048.38 901.5L1051.18 901.5L1051.63 954L1047.93 954ZM1047.93 1134.5L1051.63 1134.5L1051.23 1187L1048.33 1187ZM1053.95 903.5L1056.75 903.5L1057.2 954L1053.5 954ZM1053.5 1134.5L1057.2 1134.5L1056.8 1188L1053.9 1188ZM1059.51 901.5L1062.31 901.5L1062.76 954L1059.06 954ZM1059.06 1134.5L1062.76 1134.5L1062.36 1187.5L1059.46 1187.5ZM1065.08 901L1067.88 901L1068.33 954L1064.63 954ZM1064.63 1134.5L1068.33 1134.5L1067.93 1186.5L1065.03 1186.5ZM1070.64 901L1073.44 901L1073.89 954L1070.19 954ZM1070.19 1134.5L1073.89 1134.5L1073.49 1185.5L1070.59 1185.5ZM1076.21 902L1079.01 902L1079.46 954L1075.76 954ZM1075.76 1134.5L1079.46 1134.5L1079.06 1188L1076.16 1188ZM1081.77 901L1084.57 901L1085.02 954L1081.32 954ZM1081.32 1134.5L1085.02 1134.5L1084.62 1188L1081.72 1188ZM1087.34 901L1090.14 901L1090.59 954L1086.89 954ZM1086.89 1134.5L1090.59 1134.5L1090.19 1187.5L1087.29 1187.5ZM1092.9 901L1095.7 901L1096.15 954L1092.45 954ZM1092.45 1134.5L1096.15 1134.5L1095.75 1187.5L1092.85 1187.5ZM1098.47 901L1101.27 901L1101.72 954L1098.02 954ZM1098.02 1134.5L1101.72 1134.5L1101.32 1188L1098.42 1188ZM1104.03 902L1106.83 902L1107.28 954L1103.58 954ZM1103.58 1134.5L1107.28 1134.5L1106.88 1188L1103.98 1188ZM1109.6 903.5L1112.4 903.5L1112.85 954L1109.15 954ZM1109.15 1134.5L1112.85 1134.5L1112.45 1188L1109.55 1188ZM1115.16 903.5L1117.96 903.5L1118.41 954L1114.71 954ZM1114.71 1134.5L1118.41 1134.5L1118.01 1185.5L1115.11 1185.5ZM1120.73 901L1123.53 901L1123.98 954L1120.28 954ZM1120.28 1134.5L1123.98 1134.5L1123.58 1185.5L1120.68 1185.5ZM1126.29 901L1129.09 901L1129.54 954L1125.84 954ZM1125.84 1134.5L1129.54 1134.5L1129.14 1188L1126.24 1188ZM1131.86 903.5L1134.66 903.5L1135.11 954L1131.41 954ZM1131.41 1134.5L1135.11 1134.5L1134.71 1188L1131.81 1188ZM1137.42 901L1140.22 901L1140.67 954L1136.97 954ZM1136.97 1134.5L1140.67 1134.5L1140.27 1188L1137.37 1188ZM1142.99 902L1145.79 902L1146.24 954L1142.54 954ZM1142.54 1134.5L1146.24 1134.5L1145.84 1187.5L1142.94 1187.5ZM1148.55 902L1151.35 902L1151.8 954L1148.1 954ZM1148.1 1134.5L1151.8 1134.5L1151.4 1188L1148.5 1188ZM1154.12 901.5L1156.92 901.5L1157.37 954L1153.67 954ZM1153.67 1134.5L1157.37 1134.5L1156.97 1188L1154.07 1188ZM1159.68 901L1162.48 901L1162.93 954L1159.23 954ZM1159.23 1134.5L1162.93 1134.5L1162.53 1187L1159.63 1187Z" fill="#111"/>
<path d="M724.23 953v37.44M724.23 1135.5v-11.33M729.8 953v44.76M729.8 1135.5v-36.45M735.36 953v19.82M735.36 1135.5v-38.87M740.93 953v16.95M740.93 1135.5v-29.93M746.49 953v40.39M746.49 1135.5v-22.08M752.06 953v38.81M752.06 1135.5v-38.97M757.62 953v37.2M757.62 1135.5v-35.23M763.19 953v44.25M763.19 1135.5v-31.19M768.75 953v27.52M768.75 1135.5v-39.98M774.32 953v32.81M774.32 1135.5v-18.82M779.88 953v22.87M779.88 1135.5v-14.31M785.45 953v31.9M785.45 1135.5v-19.64M791.01 953v27.41M791.01 1135.5v-14.97M796.58 953v16.79M796.58 1135.5v-16.09M802.14 953v23.49M802.14 1135.5v-28.99M807.71 953v34.43M807.71 1135.5v-27.6M813.27 953v31.38M813.27 1135.5v-45.94M818.84 953v18.83M818.84 1135.5v-45.25M824.4 953v38.22M824.4 1135.5v-23.68M829.97 953v26.95M829.97 1135.5v-35.4M835.53 953v16.92M835.53 1135.5v-34.49M841.1 953v36.01M841.1 1135.5v-44.74M846.66 953v29.37M846.66 1135.5v-19.04M852.23 953v19.23M852.23 1135.5v-26.26M857.79 953v43.37M857.79 1135.5v-25.18M863.36 953v31.69M863.36 1135.5v-33.63M868.92 953v35.97M868.92 1135.5v-27.88M874.49 953v23.19M874.49 1135.5v-15.87M880.05 953v21.52M880.05 1135.5v-24.34M885.62 953v43.72M885.62 1135.5v-20.47M891.18 953v44.73M891.18 1135.5v-16.57M896.75 953v23.03M896.75 1135.5v-43.78M902.31 953v15.56M902.31 1135.5v-19.69M907.88 953v39.02M907.88 1135.5v-38.81M913.44 953v26.88M913.44 1135.5v-13.61M919.01 953v34.51M919.01 1135.5v-18.76M924.57 953v11.36M924.57 1135.5v-34.05M930.14 953v33.24M930.14 1135.5v-26.66M935.7 953v35.25M935.7 1135.5v-14.57M941.27 953v32.25M941.27 1135.5v-42.81M946.83 953v34.98M946.83 1135.5v-38.49M952.4 953v42.72M952.4 1135.5v-25.87M957.96 953v30.11M957.96 1135.5v-27.19M963.53 953v45.21M963.53 1135.5v-20.3M969.09 953v28.09M969.09 1135.5v-19.93M974.66 953v25.51M974.66 1135.5v-43.2M980.22 953v18.98M980.22 1135.5v-31.77M985.79 953v36.61M985.79 1135.5v-22.11M991.35 953v44.27M991.35 1135.5v-36.63M996.92 953v22.37M996.92 1135.5v-12.79M1002.48 953v29.7M1002.48 1135.5v-26.71M1008.05 953v14.61M1008.05 1135.5v-22.61M1013.61 953v28.92M1013.61 1135.5v-15.41M1019.18 953v28.26M1019.18 1135.5v-40.6M1024.74 953v35.04M1024.74 1135.5v-35.75M1030.31 953v34.87M1030.31 1135.5v-37.26M1035.87 953v38.31M1035.87 1135.5v-30.48M1041.44 953v40.78M1041.44 1135.5v-28.95M1047 953v40.42M1047 1135.5v-29.11M1052.57 953v33.23M1052.57 1135.5v-38.99M1058.13 953v34M1058.13 1135.5v-45.01M1063.7 953v23.85M1063.7 1135.5v-12.2M1069.26 953v37.32M1069.26 1135.5v-14.13M1074.83 953v31.44M1074.83 1135.5v-12.16M1080.39 953v18.12M1080.39 1135.5v-30.35M1085.96 953v26.96M1085.96 1135.5v-36.07M1091.52 953v42.17M1091.52 1135.5v-25.77M1097.09 953v11.8M1097.09 1135.5v-43.11M1102.65 953v19.2M1102.65 1135.5v-18.35M1108.22 953v31.32M1108.22 1135.5v-19.18M1113.78 953v31.06M1113.78 1135.5v-33.23M1119.35 953v34.89M1119.35 1135.5v-18.15M1124.91 953v43.17M1124.91 1135.5v-44.12M1130.48 953v22.38M1130.48 1135.5v-11.09M1136.04 953v27.46M1136.04 1135.5v-26.69M1141.61 953v34.38M1141.61 1135.5v-32.18M1147.17 953v14.53M1147.17 1135.5v-29.65M1152.74 953v45.35M1152.74 1135.5v-25.45M1158.3 953v19.11M1158.3 1135.5v-20.77" fill="none" stroke="#444" stroke-width="0.8"/>
<text transform="translate(739.11 894.25) scale(0.1730 0.1980)">b3</text>
<text transform="translate(692.17 906.7) scale(0.1730 0.1980)">1</text>
<text transform="translate(682.48 1211.2) scale(0.1730 0.1980)">-1</text>
<path d="M1331.8 890L1331.8 1210" stroke="#222" stroke-width="1.4"/>
<path d="M1322.7 1050.4L1786 1050.4" stroke="#333" stroke-width="1.4"/>
<path d="M1331.8 899h5.5M1331.8 1201.5h5.5" fill="none" stroke="#333" stroke-width="1.3"/>
<text transform="translate(1750.01 1086.31) scale(0.1730 0.1980)">20</text>
<path d="M1331.5 959H1776.9V1141H1331.5ZM1332.05 909L1334.85 909L1335.3 960L1331.6 960ZM1331.6 1140L1335.3 1140L1334.9 1193L1332 1193ZM1337.62 906.5L1340.42 906.5L1340.87 960L1337.17 960ZM1337.17 1140L1340.87 1140L1340.47 1191L1337.57 1191ZM1343.18 907.5L1345.98 907.5L1346.43 960L1342.73 960ZM1342.73 1140L1346.43 1140L1346.03 1193.5L1343.13 1193.5ZM1348.75 907.5L1351.55 907.5L1352 960L1348.3 960ZM1348.3 1140L1352 1140L1351.6 1193.5L1348.7 1193.5ZM1354.32 906.5L1357.12 906.5L1357.57 960L1353.87 960ZM1353.87 1140L1357.57 1140L1357.17 1192.5L1354.27 1192.5ZM1359.89 906.5L1362.69 906.5L1363.14 960L1359.44 960ZM1359.44 1140L1363.14 1140L1362.74 1193.5L1359.84 1193.5ZM1365.45 907L1368.25 907L1368.7 960L1365 960ZM1365 1140L1368.7 1140L1368.3 1193.5L1365.4 1193.5ZM1371.02 906.5L1373.82 906.5L1374.27 960L1370.57 960ZM1370.57 1140L1374.27 1140L1373.87 1193L1370.97 1193ZM1376.59 907.5L1379.39 907.5L1379.84 960L1376.14 960ZM1376.14 1140L1379.84 1140L1379.44 1191L1376.54 1191ZM1382.16 906.5L1384.96 906.5L1385.41 960L1381.71 960ZM1381.71 1140L1385.41 1140L1385.01 1192.5L1382.11 1192.5ZM1387.72 909L1390.52 909L1390.97 960L1387.27 960ZM1387.27 1140L1390.97 1140L1390.57 1192L1387.67 1192ZM1393.29 906.5L1396.09 906.5L1396.54 960L1392.84 960ZM1392.84 1140L1396.54 1140L1396.14 1192.5L1393.24 1192.5ZM1398.86 907.5L1401.66 907.5L1402.11 960L1398.41 960ZM1398.41 1140L1402.11 1140L1401.71 1193.5L1398.81 1193.5ZM1404.43 909L1407.23 909L1407.68 960L1403.98 960ZM1403.98 1140L1407.68 1140L1407.28 1192L1404.38 1192ZM1409.99 906.5L1412.79 906.5L1413.24 960L1409.54 960ZM1409.54 1140L1413.24 1140L1412.84 1193.5L1409.94 1193.5ZM1415.56 907L1418.36 907L1418.81 960L1415.11 960ZM1415.11 1140L1418.81 1140L1418.41 1193.5L1415.51 1193.5ZM1421.13 909L1423.93 909L1424.38 960L1420.68 960ZM1420.68 1140L1424.38 1140L1423.98 1191L1421.08 1191ZM1426.7 907L1429.5 907L1429.95 960L1426.25 960ZM1426.25 1140L1429.95 1140L1429.55 1193.5L1426.65 1193.5ZM1432.26 907L1435.06 907L1435.51 960L1431.81 960ZM1431.81 1140L1435.51 1140L1435.11 1193.5L1432.21 1193.5ZM1437.83 907L1440.63 907L1441.08 960L1437.38 960ZM1437.38 1140L1441.08 1140L1440.68 1193.5L1437.78 1193.5ZM1443.4 909L1446.2 909L1446.65 960L1442.95 960ZM1442.95 1140L1446.65 1140L1446.25 1193.5L1443.35 1193.5ZM1448.97 906.5L1451.77 906.5L1452.22 960L1448.52 960ZM1448.52 1140L1452.22 1140L1451.82 1192L1448.92 1192ZM1454.53 907L1457.33 907L1457.78 960L1454.08 960ZM1454.08 1140L1457.78 1140L1457.38 1192.5L1454.48 1192.5ZM1460.1 907L1462.9 907L1463.35 960L1459.65 960ZM1459.65 1140L1463.35 1140L1462.95 1193.5L1460.05 1193.5ZM1465.67 906.5L1468.47 906.5L1468.92 960L1465.22 960ZM1465.22 1140L1468.92 1140L1468.52 1193L1465.62 1193ZM1471.24 906.5L1474.04 906.5L1474.49 960L1470.79 960ZM1470.79 1140L1474.49 1140L1474.09 1193.5L1471.19 1193.5ZM1476.8 906.5L1479.6 906.5L1480.05 960L1476.35 960ZM1476.35 1140L1480.05 1140L1479.65 1192.5L1476.75 1192.5ZM1482.37 907.5L1485.17 907.5L1485.62 960L1481.92 960ZM1481.92 1140L1485.62 1140L1485.22 1192.5L1482.32 1192.5ZM1487.94 907L1490.74 907L1491.19 960L1487.49 960ZM1487.49 1140L1491.19 1140L1490.79 1193.5L1487.89 1193.5ZM1493.51 909L1496.31 909L1496.76 960L1493.06 960ZM1493.06 1140L1496.76 1140L1496.36 1191L1493.46 1191ZM1499.07 906.5L1501.87 906.5L1502.32 960L1498.62 960ZM1498.62 1140L1502.32 1140L1501.92 1192L1499.02 1192ZM1504.64 906.5L1507.44 906.5L1507.89 960L1504.19 960ZM1504.19 1140L1507.89 1140L1507.49 1193.5L1504.59 1193.5ZM1510.21 906.5L1513.01 906.5L1513.46 960L1509.76 960ZM1509.76 1140L1513.46 1140L1513.06 1193.5L1510.16 1193.5ZM1515.78 907L1518.58 907L1519.03 960L1515.33 960ZM1515.33 1140L1519.03 1140L1518.63 1193L1515.73 1193ZM1521.34 906.5L1524.14 906.5L1524.59 960L1520.89 960ZM1520.89 1140L1524.59 1140L1524.19 1193.5L1521.29 1193.5ZM1526.91 909L1529.71 909L1530.16 960L1526.46 960ZM1526.46 1140L1530.16 1140L1529.76 1193.5L1526.86 1193.5ZM1532.48 906.5L1535.28 906.5L1535.73 960L1532.03 960ZM1532.03 1140L1535.73 1140L1535.33 1193L1532.43 1193ZM1538.05 909L1540.85 909L1541.3 960L1537.6 960ZM1537.6 1140L1541.3 1140L1540.9 1192L1538 1192ZM1543.61 907L1546.41 907L1546.86 960L1543.16 960ZM1543.16 1140L1546.86 1140L1546.46 1192L1543.56 1192ZM1549.18 906.5L1551.98 906.5L1552.43 960L1548.73 960ZM1548.73 1140L1552.43 1140L1552.03 1191L1549.13 1191ZM1554.75 907L1557.55 907L1558 960L1554.3 960ZM1554.3 1140L1558 1140L1557.6 1193.5L1554.7 1193.5ZM1560.32 909L1563.12 909L1563.57 960L1559.87 960ZM1559.87 1140L1563.57 1140L1563.17 1193L1560.27 1193ZM1565.88 906.5L1568.68 906.5L1569.13 960L1565.43 960ZM1565.43 1140L1569.13 1140L1568.73 1193.5L1565.83 1193.5ZM1571.45 909L1574.25 909L1574.7 960L1571 960ZM1571 1140L1574.7 1140L1574.3 1193L1571.4 1193ZM1577.02 909L1579.82 909L1580.27 960L1576.57 960ZM1576.57 1140L1580.27 1140L1579.87 1192.5L1576.97 1192.5ZM1582.59 907.5L1585.39 907.5L1585.84 960L1582.14 960ZM1582.14 1140L1585.84 1140L1585.44 1192.5L1582.54 1192.5ZM1588.15 907.5L1590.95 907.5L1591.4 960L1587.7 960ZM1587.7 1140L1591.4 1140L1591 1192.5L1588.1 1192.5ZM1593.72 906.5L1596.52 906.5L1596.97 960L1593.27 960ZM1593.27 1140L1596.97 1140L1596.57 1193.5L1593.67 1193.5ZM1599.29 907.5L1602.09 907.5L1602.54 960L1598.84 960ZM1598.84 1140L1602.54 1140L1602.14 1191L1599.24 1191ZM1604.86 909L1607.66 909L1608.11 960L1604.41 960ZM1604.41 1140L1608.11 1140L1607.71 1191L1604.81 1191ZM1610.42 907L1613.22 907L1613.67 960L1609.97 960ZM1609.97 1140L1613.67 1140L1613.27 1192.5L1610.37 1192.5ZM1615.99 906.5L1618.79 906.5L1619.24 960L1615.54 960ZM1615.54 1140L1619.24 1140L1618.84 1192L1615.94 1192ZM1621.56 906.5L1624.36 906.5L1624.81 960L1621.11 960ZM1621.11 1140L1624.81 1140L1624.41 1193.5L1621.51 1193.5ZM1627.13 907.5L1629.93 907.5L1630.38 960L1626.68 960ZM1626.68 1140L1630.38 1140L1629.98 1192L1627.08 1192ZM1632.69 909L1635.49 909L1635.94 960L1632.24 960ZM1632.24 1140L1635.94 1140L1635.54 1193.5L1632.64 1193.5ZM1638.26 906.5L1641.06 906.5L1641.51 960L1637.81 960ZM1637.81 1140L1641.51 1140L1641.11 1192L1638.21 1192ZM1643.83 907L1646.63 907L1647.08 960L1643.38 960ZM1643.38 1140L1647.08 1140L1646.68 1193L1643.78 1193ZM1649.4 907L1652.2 907L1652.65 960L1648.95 960ZM1648.95 1140L1652.65 1140L1652.25 1193L1649.35 1193ZM1654.96 907L1657.76 907L1658.21 960L1654.51 960ZM1654.51 1140L1658.21 1140L1657.81 1191L1654.91 1191ZM1660.53 906.5L1663.33 906.5L1663.78 960L1660.08 960ZM1660.08 1140L1663.78 1140L1663.38 1193.5L1660.48 1193.5ZM1666.1 906.5L1668.9 906.5L1669.35 960L1665.65 960ZM1665.65 1140L1669.35 1140L1668.95 1193L1666.05 1193ZM1671.67 907.5L1674.47 907.5L1674.92 960L1671.22 960ZM1671.22 1140L1674.92 1140L1674.52 1193.5L1671.62 1193.5ZM1677.23 907.5L1680.03 907.5L1680.48 960L1676.78 960ZM1676.78 1140L1680.48 1140L1680.08 1191L1677.18 1191ZM1682.8 907L1685.6 907L1686.05 960L1682.35 960ZM1682.35 1140L1686.05 1140L1685.65 1193.5L1682.75 1193.5ZM1688.37 907L1691.17 907L1691.62 960L1687.92 960ZM1687.92 1140L1691.62 1140L1691.22 1193.5L1688.32 1193.5ZM1693.94 907L1696.74 907L1697.19 960L1693.49 960ZM1693.49 1140L1697.19 1140L1696.79 1193L1693.89 1193ZM1699.5 907L1702.3 907L1702.75 960L1699.05 960ZM1699.05 1140L1702.75 1140L1702.35 1193L1699.45 1193ZM1705.07 907L1707.87 907L1708.32 960L1704.62 960ZM1704.62 1140L1708.32 1140L1707.92 1193L1705.02 1193ZM1710.64 906.5L1713.44 906.5L1713.89 960L1710.19 960ZM1710.19 1140L1713.89 1140L1713.49 1193.5L1710.59 1193.5ZM1716.21 907L1719.01 907L1719.46 960L1715.76 960ZM1715.76 1140L1719.46 1140L1719.06 1193.5L1716.16 1193.5ZM1721.77 907.5L1724.57 907.5L1725.02 960L1721.32 960ZM1721.32 1140L1725.02 1140L1724.62 1193.5L1721.72 1193.5ZM1727.34 907L1730.14 907L1730.59 960L1726.89 960ZM1726.89 1140L1730.59 1140L1730.19 1193.5L1727.29 1193.5ZM1732.91 907L1735.71 907L1736.16 960L1732.46 960ZM1732.46 1140L1736.16 1140L1735.76 1191L1732.86 1191ZM1738.48 907.5L1741.28 907.5L1741.73 960L1738.03 960ZM1738.03 1140L1741.73 1140L1741.33 1193.5L1738.43 1193.5ZM1744.04 907L1746.84 907L1747.29 960L1743.59 960ZM1743.59 1140L1747.29 1140L1746.89 1192.5L1743.99 1192.5ZM1749.61 906.5L1752.41 906.5L1752.86 960L1749.16 960ZM1749.16 1140L1752.86 1140L1752.46 1192.5L1749.56 1192.5ZM1755.18 906.5L1757.98 906.5L1758.43 960L1754.73 960ZM1754.73 1140L1758.43 1140L1758.03 1193.5L1755.13 1193.5ZM1760.75 907.5L1763.55 907.5L1764 960L1760.3 960ZM1760.3 1140L1764 1140L1763.6 1193.5L1760.7 1193.5ZM1766.31 906.5L1769.11 906.5L1769.56 960L1765.86 960ZM1765.86 1140L1769.56 1140L1769.16 1193L1766.26 1193ZM1771.88 909L1774.68 909L1775.13 960L1771.43 960ZM1771.43 1140L1775.13 1140L1774.73 1193L1771.83 1193Z" fill="#111"/>
<path d="M1336.23 959v24.21M1336.23 1141v-11.74M1341.8 959v30.98M1341.8 1141v-42.75M1347.37 959v13.09M1347.37 1141v-25.05M1352.93 959v29.84M1352.93 1141v-12.13M1358.5 959v32.7M1358.5 1141v-30.99M1364.07 959v11.79M1364.07 1141v-17.96M1369.64 959v25.09M1369.64 1141v-29.46M1375.2 959v13.71M1375.2 1141v-30.56M1380.77 959v13.51M1380.77 1141v-35.64M1386.34 959v27.87M1386.34 1141v-29.14M1391.91 959v31.08M1391.91 1141v-26.31M1397.47 959v38.6M1397.47 1141v-35.16M1403.04 959v30.68M1403.04 1141v-28.91M1408.61 959v20.37M1408.61 1141v-45.29M1414.18 959v15.94M1414.18 1141v-22.31M1419.74 959v11.41M1419.74 1141v-34.06M1425.31 959v35.03M1425.31 1141v-31.4M1430.88 959v40.24M1430.88 1141v-44.01M1436.45 959v12.18M1436.45 1141v-35.25M1442.01 959v35.8M1442.01 1141v-41.93M1447.58 959v43.86M1447.58 1141v-22.8M1453.15 959v12.12M1453.15 1141v-37.66M1458.72 959v24.32M1458.72 1141v-43.01M1464.28 959v15.99M1464.28 1141v-24.46M1469.85 959v39.49M1469.85 1141v-41.1M1475.42 959v45.51M1475.42 1141v-34.58M1480.99 959v15.43M1480.99 1141v-16.34M1486.55 959v10.43M1486.55 1141v-39.92M1492.12 959v20.15M1492.12 1141v-15.24M1497.69 959v44.31M1497.69 1141v-34.86M1503.26 959v42.38M1503.26 1141v-38.08M1508.82 959v24.36M1508.82 1141v-13.73M1514.39 959v16.86M1514.39 1141v-45.45M1519.96 959v13.96M1519.96 1141v-31.63M1525.53 959v30.4M1525.53 1141v-29.32M1531.09 959v12.53M1531.09 1141v-17.49M1536.66 959v32.84M1536.66 1141v-44.4M1542.23 959v14.42M1542.23 1141v-40.56M1547.8 959v27.42M1547.8 1141v-13.09M1553.36 959v36.65M1553.36 1141v-27.23M1558.93 959v17.39M1558.93 1141v-44.27M1564.5 959v34.84M1564.5 1141v-42.91M1570.07 959v35.06M1570.07 1141v-19.4M1575.63 959v22.81M1575.63 1141v-18.02M1581.2 959v32.08M1581.2 1141v-38.38M1586.77 959v39.46M1586.77 1141v-36.64M1592.34 959v28.63M1592.34 1141v-22.8M1597.9 959v38.44M1597.9 1141v-27M1603.47 959v26.1M1603.47 1141v-43.73M1609.04 959v12.9M1609.04 1141v-13.68M1614.61 959v22.16M1614.61 1141v-27.38M1620.17 959v42.73M1620.17 1141v-22.38M1625.74 959v42.75M1625.74 1141v-38.16M1631.31 959v42M1631.31 1141v-25.62M1636.88 959v38.83M1636.88 1141v-44.98M1642.44 959v24.45M1642.44 1141v-44.08M1648.01 959v45.75M1648.01 1141v-10.99M1653.58 959v32.02M1653.58 1141v-31.45M1659.15 959v15.61M1659.15 1141v-29.74M1664.71 959v38.78M1664.71 1141v-36.15M1670.28 959v25.62M1670.28 1141v-41.38M1675.85 959v19.07M1675.85 1141v-20.55M1681.42 959v19.34M1681.42 1141v-25.08M1686.98 959v42.76M1686.98 1141v-22.74M1692.55 959v39.78M1692.55 1141v-41.61M1698.12 959v28.85M1698.12 1141v-10.67M1703.69 959v31.91M1703.69 1141v-37.94M1709.25 959v15.1M1709.25 1141v-32.29M1714.82 959v21.74M1714.82 1141v-28.66M1720.39 959v41.8M1720.39 1141v-12.05M1725.96 959v11.52M1725.96 1141v-13.52M1731.52 959v37.36M1731.52 1141v-42.85M1737.09 959v32.05M1737.09 1141v-28.2M1742.66 959v26.28M1742.66 1141v-29.2M1748.23 959v35.17M1748.23 1141v-41.56M1753.79 959v40.24M1753.79 1141v-14.94M1759.36 959v25.92M1759.36 1141v-12.61M1764.93 959v12.63M1764.93 1141v-34.1M1770.5 959v43.82M1770.5 1141v-33.16" fill="none" stroke="#444" stroke-width="0.8"/>
<text transform="translate(1351.68 898.61) scale(0.1730 0.1980)">c3</text>
<text transform="translate(1304.17 915.45) scale(0.1730 0.1980)">1</text>
<text transform="translate(1293.48 1213.7) scale(0.1730 0.1980)">-1</text>
</svg>
</body></html>
